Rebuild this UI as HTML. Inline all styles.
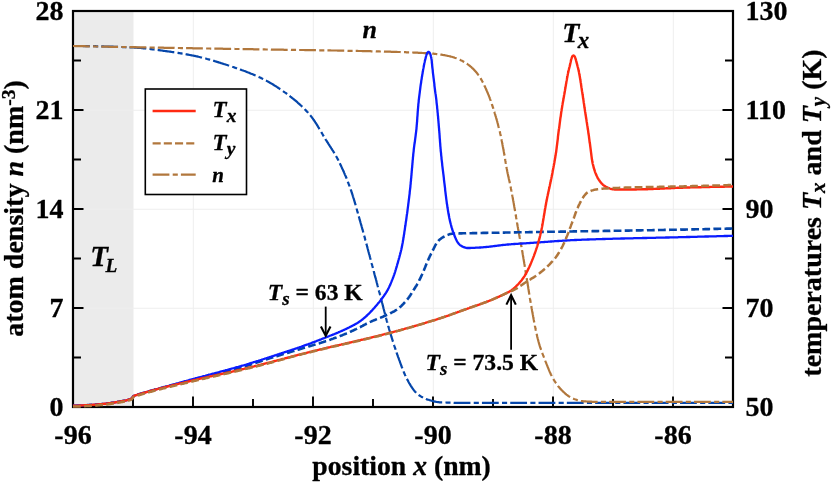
<!DOCTYPE html><html><head><meta charset="utf-8"><title>chart</title><style>html,body{margin:0;padding:0;background:#fff}#w{will-change:transform;position:relative;width:831px;height:484px;overflow:hidden;background:#fff}</style></head><body><div id="w">
<svg width="831" height="484" viewBox="0 0 831 484" style="position:absolute;left:0;top:0">
<rect x="0" y="0" width="831" height="484" fill="#fff"/>
<rect x="73" y="11" width="60.5" height="396" fill="#ebebeb"/>
<path d="M193.3,11 V407 M313.3,11 V407 M433.3,11 V407 M553.3,11 V407 M673.3,11 V407 M73,308.25 H733 M73,209.25 H733 M73,110.25 H733" stroke="#eeeeee" stroke-width="1" fill="none"/>
<rect x="73" y="11" width="660" height="396" fill="none" stroke="#000" stroke-width="2.2"/>
<path d="M133,407 v-8 M193,407 v-10.5 M253,407 v-8 M313,407 v-10.5 M373,407 v-8 M433,407 v-10.5 M493,407 v-8 M553,407 v-10.5 M613,407 v-8 M673,407 v-10.5 M73,357.5 h8 M733,357.5 h-8 M73,308.0 h10.5 M733,308.0 h-10.5 M73,258.5 h8 M733,258.5 h-8 M73,209.0 h10.5 M733,209.0 h-10.5 M73,159.5 h8 M733,159.5 h-8 M73,110.0 h10.5 M733,110.0 h-10.5 M73,60.5 h8 M733,60.5 h-8" stroke="#000" stroke-width="1.9" fill="none"/>
<clipPath id="c"><rect x="72" y="11" width="662" height="397"/></clipPath>
<g clip-path="url(#c)" fill="none" stroke-linejoin="round">
<path d="M73.0,46.0 L73.8,46.0 L74.6,46.0 L75.4,46.0 L76.2,46.0 L77.0,46.0 L77.8,46.0 L78.6,46.0 L79.4,46.0 L80.2,46.0 L81.0,46.0 L81.8,46.0 L82.6,46.0 L83.4,46.1 L84.2,46.1 L85.0,46.1 L85.8,46.1 L86.6,46.1 L87.4,46.1 L88.2,46.1 L89.0,46.1 L89.8,46.1 L90.6,46.2 L91.4,46.2 L92.2,46.2 L93.0,46.2 L93.8,46.2 L94.6,46.2 L95.4,46.2 L96.2,46.3 L97.0,46.3 L97.8,46.3 L98.6,46.3 L99.4,46.3 L100.2,46.4 L101.0,46.4 L101.8,46.4 L102.6,46.4 L103.4,46.4 L104.2,46.5 L105.0,46.5 L105.8,46.5 L106.6,46.5 L107.4,46.5 L108.2,46.6 L109.0,46.6 L109.8,46.6 L110.6,46.6 L111.4,46.7 L112.2,46.7 L113.0,46.7 L113.8,46.8 L114.6,46.8 L115.4,46.8 L116.2,46.8 L117.0,46.9 L117.8,46.9 L118.6,46.9 L119.4,46.9 L120.2,47.0 L121.0,47.0 L121.8,47.0 L122.6,47.1 L123.4,47.1 L124.2,47.1 L125.0,47.2 L125.8,47.2 L126.6,47.2 L127.4,47.3 L128.2,47.3 L129.0,47.3 L129.8,47.4 L130.6,47.4 L131.4,47.4 L132.2,47.5 L133.0,47.5 L133.8,47.5 L134.6,47.6 L135.3,47.6 L136.1,47.7 L136.9,47.7 L137.7,47.8 L138.5,47.8 L139.3,47.9 L140.1,48.0 L140.9,48.0 L141.7,48.1 L142.5,48.2 L143.3,48.3 L144.1,48.3 L144.9,48.4 L145.7,48.5 L146.5,48.6 L147.3,48.7 L148.1,48.8 L148.9,48.9 L149.7,49.0 L150.5,49.1 L151.3,49.2 L152.1,49.3 L152.9,49.4 L153.7,49.5 L154.4,49.6 L155.2,49.7 L156.0,49.8 L156.8,49.9 L157.6,50.0 L158.4,50.1 L159.2,50.2 L160.0,50.3 L160.8,50.4 L161.6,50.5 L162.4,50.6 L163.2,50.8 L164.0,50.9 L164.8,51.0 L165.6,51.1 L166.3,51.2 L167.1,51.3 L167.9,51.4 L168.7,51.5 L169.5,51.6 L170.3,51.7 L171.1,51.8 L171.9,52.0 L172.7,52.1 L173.5,52.2 L174.3,52.3 L175.1,52.4 L175.9,52.6 L176.6,52.7 L177.4,52.8 L178.2,52.9 L179.0,53.1 L179.8,53.2 L180.6,53.3 L181.4,53.4 L182.2,53.6 L183.0,53.7 L183.8,53.8 L184.5,54.0 L185.3,54.1 L186.1,54.3 L186.9,54.4 L187.7,54.6 L188.5,54.7 L189.3,54.9 L190.0,55.0 L190.8,55.2 L191.6,55.3 L192.4,55.5 L193.2,55.6 L194.0,55.8 L194.7,55.9 L195.5,56.1 L196.3,56.3 L197.1,56.4 L197.9,56.6 L198.6,56.8 L199.4,57.0 L200.2,57.2 L201.0,57.4 L201.7,57.5 L202.5,57.7 L203.3,57.9 L204.1,58.1 L204.8,58.3 L205.6,58.5 L206.4,58.7 L207.2,59.0 L207.9,59.2 L208.7,59.4 L209.5,59.6 L210.2,59.8 L211.0,60.0 L211.8,60.3 L212.5,60.5 L213.3,60.7 L214.1,60.9 L214.9,61.2 L215.6,61.4 L216.4,61.6 L217.2,61.9 L217.9,62.1 L218.7,62.4 L219.5,62.6 L220.2,62.8 L221.0,63.1 L221.7,63.3 L222.5,63.6 L223.3,63.8 L224.0,64.1 L224.8,64.3 L225.6,64.5 L226.3,64.8 L227.1,65.0 L227.8,65.3 L228.6,65.5 L229.4,65.8 L230.1,66.0 L230.9,66.3 L231.6,66.5 L232.4,66.8 L233.1,67.0 L233.9,67.3 L234.7,67.6 L235.4,67.8 L236.2,68.1 L236.9,68.3 L237.7,68.6 L238.5,68.9 L239.2,69.1 L240.0,69.4 L240.7,69.7 L241.5,69.9 L242.2,70.2 L243.0,70.5 L243.8,70.8 L244.5,71.0 L245.3,71.3 L246.0,71.6 L246.8,71.9 L247.5,72.2 L248.3,72.5 L249.0,72.8 L249.7,73.1 L250.5,73.4 L251.2,73.7 L252.0,74.0 L252.7,74.3 L253.4,74.6 L254.2,74.9 L254.9,75.2 L255.6,75.5 L256.4,75.8 L257.1,76.2 L257.8,76.5 L258.5,76.8 L259.3,77.2 L260.0,77.5 L260.7,77.8 L261.4,78.2 L262.1,78.5 L262.8,78.9 L263.5,79.2 L264.3,79.6 L265.0,80.0 L265.7,80.4 L266.4,80.7 L267.1,81.1 L267.8,81.5 L268.5,81.9 L269.2,82.3 L269.9,82.7 L270.6,83.1 L271.3,83.5 L272.0,83.9 L272.7,84.3 L273.4,84.7 L274.0,85.2 L274.7,85.6 L275.4,86.0 L276.1,86.4 L276.8,86.9 L277.5,87.3 L278.1,87.8 L278.8,88.2 L279.5,88.6 L280.1,89.1 L280.8,89.5 L281.4,90.0 L282.1,90.4 L282.8,90.9 L283.4,91.4 L284.0,91.8 L284.7,92.3 L285.3,92.7 L286.0,93.2 L286.6,93.7 L287.2,94.2 L287.9,94.6 L288.5,95.1 L289.2,95.6 L289.8,96.1 L290.4,96.6 L291.1,97.1 L291.7,97.6 L292.3,98.1 L293.0,98.6 L293.6,99.1 L294.2,99.6 L294.8,100.1 L295.5,100.7 L296.1,101.2 L296.7,101.7 L297.3,102.2 L297.9,102.8 L298.5,103.3 L299.1,103.8 L299.7,104.4 L300.3,104.9 L300.9,105.5 L301.5,106.0 L302.1,106.6 L302.7,107.2 L303.3,107.7 L303.8,108.3 L304.4,108.8 L304.9,109.4 L305.5,110.0 L306.1,110.6 L306.6,111.1 L307.1,111.7 L307.7,112.3 L308.2,112.9 L308.7,113.5 L309.2,114.1 L309.7,114.7 L310.2,115.3 L310.7,115.9 L311.2,116.5 L311.7,117.1 L312.2,117.7 L312.6,118.4 L313.1,119.0 L313.5,119.7 L314.0,120.3 L314.4,121.0 L314.9,121.6 L315.3,122.3 L315.8,123.0 L316.2,123.6 L316.6,124.3 L317.0,125.0 L317.5,125.7 L317.9,126.4 L318.3,127.1 L318.7,127.7 L319.1,128.4 L319.5,129.1 L320.0,129.8 L320.4,130.5 L320.8,131.2 L321.2,131.9 L321.6,132.6 L322.0,133.3 L322.4,134.0 L322.8,134.7 L323.2,135.4 L323.6,136.1 L324.0,136.8 L324.5,137.5 L324.9,138.2 L325.3,138.9 L325.7,139.6 L326.1,140.2 L326.6,140.9 L327.0,141.6 L327.4,142.3 L327.9,142.9 L328.3,143.6 L328.7,144.3 L329.2,145.0 L329.6,145.6 L330.0,146.3 L330.5,147.0 L330.9,147.6 L331.3,148.3 L331.8,149.0 L332.2,149.7 L332.6,150.4 L333.1,151.0 L333.5,151.7 L333.9,152.4 L334.3,153.1 L334.7,153.8 L335.1,154.5 L335.5,155.1 L335.9,155.8 L336.3,156.5 L336.7,157.2 L337.1,157.9 L337.4,158.6 L337.8,159.3 L338.2,160.0 L338.5,160.8 L338.9,161.5 L339.2,162.2 L339.6,162.9 L339.9,163.6 L340.3,164.3 L340.6,165.1 L341.0,165.8 L341.3,166.5 L341.7,167.2 L342.0,168.0 L342.3,168.7 L342.7,169.4 L343.0,170.1 L343.3,170.9 L343.7,171.6 L344.0,172.3 L344.3,173.1 L344.6,173.8 L344.9,174.6 L345.2,175.3 L345.6,176.0 L345.9,176.8 L346.2,177.5 L346.5,178.3 L346.8,179.0 L347.1,179.8 L347.4,180.5 L347.7,181.2 L347.9,182.0 L348.2,182.7 L348.5,183.5 L348.8,184.2 L349.1,185.0 L349.4,185.7 L349.6,186.5 L349.9,187.2 L350.2,188.0 L350.4,188.7 L350.7,189.5 L351.0,190.2 L351.2,191.0 L351.5,191.7 L351.7,192.5 L352.0,193.3 L352.2,194.0 L352.5,194.8 L352.7,195.5 L352.9,196.3 L353.2,197.1 L353.4,197.8 L353.7,198.6 L353.9,199.3 L354.1,200.1 L354.3,200.9 L354.6,201.6 L354.8,202.4 L355.0,203.2 L355.3,204.0 L355.5,204.7 L355.7,205.5 L355.9,206.3 L356.1,207.0 L356.4,207.8 L356.6,208.6 L356.8,209.3 L357.0,210.1 L357.2,210.9 L357.4,211.7 L357.7,212.4 L357.9,213.2 L358.1,214.0 L358.3,214.7 L358.5,215.5 L358.7,216.3 L359.0,217.1 L359.2,217.8 L359.4,218.6 L359.6,219.4 L359.8,220.1 L360.0,220.9 L360.3,221.7 L360.5,222.5 L360.7,223.2 L360.9,224.0 L361.1,224.8 L361.4,225.5 L361.6,226.3 L361.8,227.1 L362.0,227.8 L362.2,228.6 L362.4,229.4 L362.7,230.1 L362.9,230.9 L363.1,231.7 L363.3,232.5 L363.5,233.2 L363.7,234.0 L363.9,234.8 L364.1,235.5 L364.4,236.3 L364.6,237.1 L364.8,237.9 L365.0,238.6 L365.2,239.4 L365.4,240.2 L365.6,240.9 L365.8,241.7 L366.0,242.5 L366.2,243.3 L366.4,244.0 L366.7,244.8 L366.9,245.6 L367.1,246.4 L367.3,247.1 L367.5,247.9 L367.7,248.7 L367.9,249.4 L368.1,250.2 L368.3,251.0 L368.5,251.8 L368.7,252.5 L368.9,253.3 L369.1,254.1 L369.4,254.8 L369.6,255.6 L369.8,256.4 L370.0,257.2 L370.2,257.9 L370.4,258.7 L370.6,259.5 L370.8,260.3 L371.0,261.0 L371.2,261.8 L371.4,262.6 L371.6,263.3 L371.8,264.1 L372.1,264.9 L372.3,265.7 L372.5,266.4 L372.7,267.2 L372.9,268.0 L373.1,268.7 L373.3,269.5 L373.5,270.3 L373.7,271.1 L373.9,271.8 L374.1,272.6 L374.3,273.4 L374.5,274.2 L374.7,274.9 L374.9,275.7 L375.1,276.5 L375.3,277.3 L375.6,278.0 L375.8,278.8 L376.0,279.6 L376.2,280.3 L376.4,281.1 L376.6,281.9 L376.8,282.7 L377.0,283.4 L377.2,284.2 L377.4,285.0 L377.6,285.8 L377.8,286.5 L378.0,287.3 L378.2,288.1 L378.4,288.8 L378.6,289.6 L378.8,290.4 L379.0,291.2 L379.2,291.9 L379.5,292.7 L379.7,293.5 L379.9,294.3 L380.1,295.0 L380.3,295.8 L380.5,296.6 L380.7,297.3 L380.9,298.1 L381.1,298.9 L381.3,299.7 L381.5,300.4 L381.7,301.2 L381.9,302.0 L382.1,302.8 L382.3,303.5 L382.5,304.3 L382.7,305.1 L382.9,305.9 L383.1,306.6 L383.3,307.4 L383.5,308.2 L383.7,309.0 L383.9,309.7 L384.1,310.5 L384.3,311.3 L384.5,312.1 L384.7,312.8 L384.9,313.6 L385.1,314.4 L385.3,315.2 L385.5,315.9 L385.7,316.7 L385.9,317.5 L386.1,318.3 L386.3,319.0 L386.5,319.8 L386.7,320.6 L386.9,321.3 L387.2,322.1 L387.4,322.9 L387.6,323.7 L387.8,324.4 L388.0,325.2 L388.2,326.0 L388.4,326.7 L388.7,327.5 L388.9,328.3 L389.1,329.0 L389.3,329.8 L389.6,330.6 L389.8,331.3 L390.0,332.1 L390.3,332.9 L390.5,333.6 L390.7,334.4 L390.9,335.2 L391.2,335.9 L391.4,336.7 L391.7,337.5 L391.9,338.2 L392.1,339.0 L392.4,339.7 L392.6,340.5 L392.8,341.3 L393.1,342.0 L393.3,342.8 L393.6,343.6 L393.8,344.3 L394.1,345.1 L394.3,345.8 L394.6,346.6 L394.8,347.4 L395.1,348.1 L395.3,348.9 L395.6,349.6 L395.8,350.4 L396.1,351.2 L396.4,351.9 L396.6,352.7 L396.9,353.4 L397.1,354.2 L397.4,354.9 L397.7,355.7 L397.9,356.4 L398.2,357.2 L398.5,357.9 L398.8,358.7 L399.0,359.4 L399.3,360.2 L399.6,360.9 L399.9,361.7 L400.1,362.4 L400.4,363.2 L400.7,364.0 L401.0,364.7 L401.2,365.5 L401.5,366.2 L401.8,367.0 L402.1,367.7 L402.4,368.5 L402.7,369.2 L403.0,370.0 L403.3,370.7 L403.6,371.5 L403.9,372.2 L404.2,373.0 L404.5,373.7 L404.8,374.4 L405.1,375.2 L405.5,375.9 L405.8,376.6 L406.1,377.3 L406.5,378.0 L406.8,378.7 L407.2,379.4 L407.6,380.1 L408.0,380.8 L408.3,381.5 L408.7,382.2 L409.1,383.0 L409.5,383.7 L410.0,384.4 L410.4,385.1 L410.8,385.8 L411.3,386.5 L411.7,387.2 L412.2,387.9 L412.7,388.6 L413.1,389.2 L413.6,389.9 L414.1,390.5 L414.6,391.1 L415.1,391.7 L415.7,392.3 L416.2,392.8 L416.8,393.3 L417.3,393.8 L417.9,394.3 L418.5,394.8 L419.1,395.3 L419.8,395.7 L420.5,396.1 L421.2,396.6 L421.9,397.0 L422.6,397.4 L423.3,397.8 L424.1,398.1 L424.8,398.5 L425.6,398.8 L426.3,399.1 L427.1,399.4 L427.8,399.6 L428.6,399.8 L429.3,400.1 L430.1,400.3 L430.8,400.5 L431.6,400.8 L432.4,401.0 L433.2,401.2 L434.0,401.4 L434.8,401.6 L435.6,401.7 L436.3,401.9 L437.1,402.0 L437.9,402.1 L438.7,402.2 L439.5,402.3 L440.3,402.3 L441.1,402.4 L441.9,402.4 L442.7,402.4 L443.5,402.5 L444.3,402.5 L445.1,402.5 L445.9,402.5 L446.7,402.6 L447.5,402.6 L448.3,402.6 L449.1,402.6 L449.9,402.7 L450.7,402.7 L451.5,402.7 L452.3,402.7 L453.1,402.7 L453.9,402.8 L454.7,402.8 L455.5,402.8 L456.3,402.8 L457.1,402.8 L457.9,402.8 L458.7,402.8 L459.5,402.8 L460.3,402.8 L461.1,402.8 L461.9,402.8 L462.7,402.8 L463.5,402.8 L464.3,402.8 L465.1,402.8 L465.9,402.8 L466.7,402.8 L467.5,402.8 L468.3,402.8 L469.1,402.8 L469.9,402.8 L470.7,402.8 L471.5,402.8 L472.3,402.8 L473.1,402.8 L473.9,402.8 L474.7,402.8 L475.5,402.8 L476.3,402.8 L477.1,402.8 L477.9,402.8 L478.7,402.8 L479.5,402.8 L480.3,402.8 L481.1,402.8 L481.9,402.8 L482.7,402.8 L483.5,402.8 L484.3,402.8 L485.1,402.8 L485.9,402.8 L486.7,402.8 L487.5,402.8 L488.3,402.8 L489.1,402.8 L489.9,402.8 L490.7,402.8 L491.5,402.8 L492.3,402.8 L493.1,402.8 L493.9,402.8 L494.7,402.8 L495.5,402.8 L496.3,402.8 L497.1,402.8 L497.9,402.8 L498.7,402.8 L499.5,402.8 L500.3,402.8 L501.1,402.8 L501.9,402.8 L502.7,402.8 L503.5,402.8 L504.3,402.8 L505.1,402.8 L505.9,402.8 L506.7,402.8 L507.5,402.8 L508.3,402.8 L509.1,402.8 L509.9,402.8 L510.7,402.8 L511.5,402.8 L512.3,402.8 L513.1,402.8 L513.9,402.8 L514.7,402.8 L515.5,402.8 L516.3,402.8 L517.1,402.8 L517.9,402.8 L518.7,402.8 L519.5,402.8 L520.3,402.8 L521.1,402.8 L521.9,402.8 L522.7,402.8 L523.5,402.8 L524.3,402.8 L525.1,402.8 L525.9,402.8 L526.7,402.8 L527.5,402.8 L528.3,402.8 L529.1,402.8 L529.9,402.8 L530.7,402.8 L531.5,402.8 L532.3,402.8 L533.1,402.8 L533.9,402.8 L534.7,402.8 L535.5,402.8 L536.3,402.8 L537.1,402.8 L537.9,402.8 L538.7,402.8 L539.5,402.8 L540.3,402.8 L541.1,402.8 L541.9,402.8 L542.7,402.8 L543.5,402.8 L544.3,402.8 L545.1,402.8 L545.9,402.8 L546.7,402.8 L547.5,402.8 L548.3,402.8 L549.1,402.8 L549.9,402.8 L550.7,402.8 L551.5,402.8 L552.3,402.8 L553.1,402.8 L553.9,402.8 L554.7,402.8 L555.5,402.8 L556.3,402.8 L557.1,402.8 L557.9,402.8 L558.7,402.8 L559.5,402.8 L560.2,402.8 L561.0,402.8 L561.8,402.8 L562.6,402.8 L563.4,402.8 L564.2,402.8 L565.0,402.8 L565.8,402.8 L566.6,402.8 L567.4,402.8 L568.2,402.8 L569.0,402.8 L569.8,402.8 L570.6,402.8 L571.4,402.8 L572.2,402.8 L573.0,402.8 L573.8,402.8 L574.6,402.8 L575.4,402.8 L576.2,402.8 L577.0,402.8 L577.8,402.8 L578.6,402.8 L579.4,402.8 L580.2,402.8 L581.0,402.8 L581.8,402.8 L582.6,402.8 L583.4,402.8 L584.2,402.8 L585.0,402.8 L585.8,402.8 L586.6,402.8 L587.4,402.8 L588.2,402.8 L589.0,402.8 L589.8,402.8 L590.6,402.8 L591.4,402.8 L592.2,402.8 L593.0,402.8 L593.8,402.8 L594.6,402.8 L595.4,402.8 L596.2,402.8 L597.0,402.8 L597.8,402.8 L598.6,402.8 L599.4,402.8 L600.2,402.8 L601.0,402.8 L601.8,402.8 L602.6,402.8 L603.4,402.8 L604.2,402.8 L605.0,402.8 L605.8,402.8 L606.6,402.8 L607.4,402.8 L608.2,402.8 L609.0,402.8 L609.8,402.8 L610.6,402.8 L611.4,402.8 L612.2,402.8 L613.0,402.8 L613.8,402.8 L614.6,402.8 L615.4,402.8 L616.2,402.8 L617.0,402.8 L617.8,402.8 L618.6,402.8 L619.4,402.8 L620.2,402.8 L621.0,402.8 L621.8,402.8 L622.6,402.8 L623.4,402.8 L624.2,402.8 L625.0,402.8 L625.8,402.8 L626.6,402.8 L627.4,402.8 L628.2,402.8 L629.0,402.8 L629.8,402.8 L630.6,402.8 L631.4,402.8 L632.2,402.8 L633.0,402.8 L633.8,402.8 L634.6,402.8 L635.4,402.8 L636.2,402.8 L637.0,402.8 L637.8,402.8 L638.6,402.8 L639.4,402.8 L640.2,402.8 L641.0,402.8 L641.8,402.8 L642.6,402.8 L643.4,402.8 L644.2,402.8 L645.0,402.8 L645.8,402.8 L646.6,402.8 L647.4,402.8 L648.2,402.8 L649.0,402.8 L649.8,402.8 L650.6,402.8 L651.4,402.8 L652.2,402.8 L653.0,402.8 L653.8,402.8 L654.6,402.8 L655.4,402.8 L656.2,402.8 L657.0,402.8 L657.8,402.8 L658.6,402.8 L659.4,402.8 L660.2,402.8 L661.0,402.8 L661.8,402.8 L662.6,402.8 L663.4,402.8 L664.2,402.8 L665.0,402.8 L665.8,402.8 L666.6,402.8 L667.4,402.8 L668.2,402.8 L669.0,402.8 L669.8,402.8 L670.6,402.8 L671.4,402.8 L672.2,402.8 L673.0,402.8 L673.8,402.8 L674.6,402.8 L675.4,402.8 L676.2,402.8 L677.0,402.8 L677.8,402.8 L678.6,402.8 L679.4,402.8 L680.2,402.8 L681.0,402.8 L681.8,402.8 L682.6,402.8 L683.4,402.8 L684.2,402.8 L685.0,402.8 L685.8,402.8 L686.6,402.8 L687.4,402.8 L688.2,402.8 L689.0,402.8 L689.8,402.8 L690.6,402.8 L691.4,402.8 L692.2,402.8 L693.0,402.8 L693.8,402.8 L694.6,402.8 L695.4,402.8 L696.2,402.8 L697.0,402.8 L697.8,402.8 L698.6,402.8 L699.4,402.8 L700.2,402.8 L701.0,402.8 L701.8,402.8 L702.6,402.8 L703.4,402.8 L704.2,402.8 L705.0,402.8 L705.8,402.8 L706.6,402.8 L707.4,402.8 L708.2,402.8 L709.0,402.8 L709.8,402.8 L710.6,402.8 L711.4,402.8 L712.2,402.8 L713.0,402.8 L713.8,402.8 L714.6,402.8 L715.4,402.8 L716.2,402.8 L717.0,402.8 L717.8,402.8 L718.6,402.8 L719.4,402.8 L720.2,402.8 L721.0,402.8 L721.8,402.8 L722.6,402.8 L723.4,402.8 L724.2,402.8 L725.0,402.8 L725.8,402.8 L726.6,402.8 L727.4,402.8 L728.2,402.8 L729.0,402.8 L729.8,402.8 L730.6,402.8 L731.4,402.8 L732.2,402.8 L733.0,402.8" stroke="#0546aa" stroke-width="2.2" stroke-dasharray="16.8 3.3 5.1 3.1"/>
<path d="M73.0,46.0 L73.8,46.0 L74.6,46.0 L75.4,46.1 L76.2,46.1 L77.0,46.1 L77.8,46.1 L78.6,46.1 L79.4,46.1 L80.2,46.2 L81.0,46.2 L81.8,46.2 L82.6,46.2 L83.4,46.2 L84.2,46.2 L85.0,46.2 L85.8,46.3 L86.6,46.3 L87.4,46.3 L88.2,46.3 L89.0,46.3 L89.8,46.3 L90.6,46.4 L91.4,46.4 L92.2,46.4 L93.0,46.4 L93.8,46.4 L94.6,46.4 L95.4,46.5 L96.2,46.5 L97.0,46.5 L97.8,46.5 L98.6,46.5 L99.4,46.5 L100.2,46.6 L101.0,46.6 L101.8,46.6 L102.6,46.6 L103.4,46.6 L104.2,46.6 L105.0,46.7 L105.8,46.7 L106.6,46.7 L107.4,46.7 L108.2,46.7 L109.0,46.7 L109.8,46.8 L110.6,46.8 L111.4,46.8 L112.2,46.8 L113.0,46.8 L113.8,46.8 L114.6,46.8 L115.4,46.9 L116.2,46.9 L117.0,46.9 L117.8,46.9 L118.6,46.9 L119.4,46.9 L120.2,47.0 L121.0,47.0 L121.8,47.0 L122.6,47.0 L123.4,47.0 L124.2,47.0 L125.0,47.0 L125.8,47.1 L126.6,47.1 L127.4,47.1 L128.2,47.1 L129.0,47.1 L129.8,47.1 L130.6,47.2 L131.4,47.2 L132.2,47.2 L133.0,47.2 L133.8,47.2 L134.6,47.2 L135.4,47.2 L136.2,47.3 L137.0,47.3 L137.8,47.3 L138.6,47.3 L139.4,47.3 L140.2,47.3 L141.0,47.3 L141.8,47.4 L142.6,47.4 L143.4,47.4 L144.2,47.4 L145.0,47.4 L145.8,47.4 L146.6,47.4 L147.4,47.5 L148.2,47.5 L149.0,47.5 L149.8,47.5 L150.6,47.5 L151.4,47.5 L152.2,47.5 L153.0,47.6 L153.8,47.6 L154.6,47.6 L155.4,47.6 L156.2,47.6 L157.0,47.6 L157.8,47.6 L158.6,47.7 L159.4,47.7 L160.2,47.7 L161.0,47.7 L161.7,47.7 L162.5,47.7 L163.3,47.7 L164.1,47.8 L164.9,47.8 L165.7,47.8 L166.5,47.8 L167.3,47.8 L168.1,47.8 L168.9,47.8 L169.7,47.9 L170.5,47.9 L171.3,47.9 L172.1,47.9 L172.9,47.9 L173.7,47.9 L174.5,47.9 L175.3,48.0 L176.1,48.0 L176.9,48.0 L177.7,48.0 L178.5,48.0 L179.3,48.0 L180.1,48.0 L180.9,48.1 L181.7,48.1 L182.5,48.1 L183.3,48.1 L184.1,48.1 L184.9,48.1 L185.7,48.1 L186.5,48.1 L187.3,48.2 L188.1,48.2 L188.9,48.2 L189.7,48.2 L190.5,48.2 L191.3,48.2 L192.1,48.2 L192.9,48.3 L193.7,48.3 L194.5,48.3 L195.3,48.3 L196.1,48.3 L196.9,48.3 L197.7,48.3 L198.5,48.3 L199.3,48.4 L200.1,48.4 L200.9,48.4 L201.7,48.4 L202.5,48.4 L203.3,48.4 L204.1,48.4 L204.9,48.5 L205.7,48.5 L206.5,48.5 L207.3,48.5 L208.1,48.5 L208.9,48.5 L209.7,48.5 L210.5,48.6 L211.3,48.6 L212.1,48.6 L212.9,48.6 L213.7,48.6 L214.5,48.6 L215.3,48.6 L216.1,48.6 L216.9,48.7 L217.7,48.7 L218.5,48.7 L219.3,48.7 L220.1,48.7 L220.9,48.7 L221.7,48.7 L222.5,48.7 L223.3,48.8 L224.1,48.8 L224.9,48.8 L225.7,48.8 L226.5,48.8 L227.3,48.8 L228.1,48.8 L228.9,48.9 L229.7,48.9 L230.5,48.9 L231.3,48.9 L232.1,48.9 L232.9,48.9 L233.7,48.9 L234.5,48.9 L235.3,49.0 L236.1,49.0 L236.9,49.0 L237.7,49.0 L238.5,49.0 L239.3,49.0 L240.1,49.0 L240.9,49.1 L241.7,49.1 L242.5,49.1 L243.3,49.1 L244.1,49.1 L244.9,49.1 L245.7,49.1 L246.5,49.1 L247.3,49.2 L248.1,49.2 L248.9,49.2 L249.7,49.2 L250.5,49.2 L251.3,49.2 L252.1,49.2 L252.9,49.2 L253.7,49.3 L254.5,49.3 L255.3,49.3 L256.1,49.3 L256.9,49.3 L257.7,49.3 L258.5,49.3 L259.3,49.4 L260.1,49.4 L260.9,49.4 L261.7,49.4 L262.5,49.4 L263.3,49.4 L264.1,49.4 L264.9,49.4 L265.7,49.5 L266.5,49.5 L267.3,49.5 L268.1,49.5 L268.9,49.5 L269.7,49.5 L270.5,49.5 L271.3,49.6 L272.1,49.6 L272.9,49.6 L273.7,49.6 L274.5,49.6 L275.3,49.6 L276.1,49.6 L276.9,49.6 L277.7,49.7 L278.5,49.7 L279.3,49.7 L280.1,49.7 L280.9,49.7 L281.7,49.7 L282.5,49.7 L283.3,49.7 L284.1,49.8 L284.9,49.8 L285.7,49.8 L286.5,49.8 L287.3,49.8 L288.1,49.8 L288.9,49.8 L289.7,49.8 L290.5,49.8 L291.3,49.9 L292.1,49.9 L292.9,49.9 L293.7,49.9 L294.5,49.9 L295.3,49.9 L296.1,49.9 L296.9,49.9 L297.7,49.9 L298.5,50.0 L299.3,50.0 L300.1,50.0 L300.9,50.0 L301.7,50.0 L302.5,50.0 L303.3,50.0 L304.1,50.0 L304.9,50.1 L305.7,50.1 L306.5,50.1 L307.3,50.1 L308.1,50.1 L308.9,50.1 L309.7,50.1 L310.5,50.1 L311.3,50.1 L312.1,50.2 L312.9,50.2 L313.7,50.2 L314.5,50.2 L315.3,50.2 L316.1,50.2 L316.9,50.2 L317.7,50.2 L318.5,50.3 L319.3,50.3 L320.1,50.3 L320.9,50.3 L321.7,50.3 L322.5,50.3 L323.3,50.3 L324.1,50.3 L324.9,50.3 L325.7,50.4 L326.5,50.4 L327.3,50.4 L328.1,50.4 L328.9,50.4 L329.7,50.4 L330.5,50.4 L331.3,50.5 L332.1,50.5 L332.9,50.5 L333.7,50.5 L334.5,50.5 L335.3,50.5 L336.1,50.5 L336.9,50.5 L337.7,50.6 L338.5,50.6 L339.3,50.6 L340.1,50.6 L340.9,50.6 L341.7,50.6 L342.5,50.6 L343.3,50.7 L344.1,50.7 L344.9,50.7 L345.7,50.7 L346.5,50.7 L347.3,50.7 L348.1,50.8 L348.9,50.8 L349.7,50.8 L350.5,50.8 L351.3,50.8 L352.1,50.8 L352.9,50.8 L353.7,50.9 L354.5,50.9 L355.3,50.9 L356.1,50.9 L356.8,50.9 L357.6,50.9 L358.4,51.0 L359.2,51.0 L360.0,51.0 L360.8,51.0 L361.6,51.0 L362.4,51.1 L363.2,51.1 L364.0,51.1 L364.8,51.1 L365.6,51.1 L366.4,51.1 L367.2,51.2 L368.0,51.2 L368.8,51.2 L369.6,51.2 L370.4,51.2 L371.2,51.3 L372.0,51.3 L372.8,51.3 L373.6,51.3 L374.4,51.3 L375.2,51.3 L376.0,51.4 L376.8,51.4 L377.6,51.4 L378.4,51.4 L379.2,51.4 L380.0,51.5 L380.8,51.5 L381.6,51.5 L382.4,51.5 L383.2,51.5 L384.0,51.6 L384.8,51.6 L385.6,51.6 L386.4,51.6 L387.2,51.6 L388.0,51.7 L388.8,51.7 L389.6,51.7 L390.4,51.7 L391.2,51.8 L392.0,51.8 L392.8,51.8 L393.6,51.8 L394.4,51.9 L395.2,51.9 L396.0,51.9 L396.8,51.9 L397.6,52.0 L398.4,52.0 L399.2,52.0 L400.0,52.0 L400.8,52.1 L401.6,52.1 L402.4,52.1 L403.2,52.1 L404.0,52.2 L404.8,52.2 L405.6,52.2 L406.4,52.3 L407.2,52.3 L408.0,52.3 L408.8,52.4 L409.6,52.4 L410.4,52.4 L411.2,52.5 L412.0,52.5 L412.8,52.5 L413.6,52.6 L414.4,52.6 L415.2,52.6 L416.0,52.7 L416.8,52.7 L417.6,52.7 L418.4,52.8 L419.2,52.8 L420.0,52.9 L420.8,52.9 L421.6,52.9 L422.4,53.0 L423.2,53.0 L424.0,53.1 L424.8,53.1 L425.6,53.1 L426.4,53.2 L427.2,53.2 L428.0,53.3 L428.8,53.3 L429.6,53.4 L430.4,53.4 L431.2,53.5 L432.0,53.6 L432.8,53.7 L433.6,53.7 L434.4,53.8 L435.2,53.9 L436.0,54.0 L436.7,54.1 L437.5,54.2 L438.3,54.3 L439.1,54.4 L439.9,54.5 L440.7,54.6 L441.5,54.7 L442.3,54.8 L443.1,55.0 L443.9,55.1 L444.7,55.2 L445.5,55.4 L446.3,55.5 L447.0,55.7 L447.8,55.9 L448.6,56.0 L449.4,56.2 L450.2,56.4 L450.9,56.6 L451.7,56.8 L452.5,57.0 L453.2,57.2 L454.0,57.4 L454.7,57.7 L455.5,58.0 L456.3,58.2 L457.0,58.5 L457.8,58.8 L458.5,59.2 L459.3,59.5 L460.0,59.8 L460.7,60.2 L461.5,60.5 L462.2,60.9 L462.9,61.3 L463.6,61.7 L464.3,62.1 L464.9,62.5 L465.6,62.9 L466.2,63.3 L466.9,63.7 L467.5,64.2 L468.2,64.7 L468.8,65.1 L469.5,65.6 L470.1,66.2 L470.7,66.7 L471.4,67.2 L472.0,67.8 L472.6,68.3 L473.2,68.9 L473.8,69.5 L474.3,70.1 L474.9,70.7 L475.4,71.3 L475.9,71.9 L476.5,72.5 L477.0,73.1 L477.4,73.7 L477.9,74.3 L478.3,74.9 L478.8,75.5 L479.2,76.2 L479.7,76.8 L480.1,77.5 L480.5,78.2 L480.9,78.9 L481.3,79.6 L481.7,80.3 L482.1,81.0 L482.5,81.7 L482.8,82.4 L483.2,83.1 L483.6,83.9 L483.9,84.6 L484.3,85.3 L484.6,86.1 L485.0,86.8 L485.3,87.5 L485.7,88.3 L486.0,89.0 L486.3,89.8 L486.6,90.5 L487.0,91.2 L487.3,92.0 L487.6,92.7 L487.9,93.4 L488.2,94.2 L488.5,94.9 L488.8,95.6 L489.1,96.4 L489.4,97.1 L489.7,97.9 L489.9,98.6 L490.2,99.4 L490.5,100.1 L490.7,100.9 L491.0,101.7 L491.3,102.4 L491.5,103.2 L491.8,103.9 L492.0,104.7 L492.3,105.5 L492.5,106.2 L492.8,107.0 L493.0,107.7 L493.3,108.5 L493.5,109.3 L493.8,110.0 L494.0,110.8 L494.2,111.6 L494.5,112.3 L494.7,113.1 L494.9,113.8 L495.2,114.6 L495.4,115.4 L495.6,116.1 L495.9,116.9 L496.1,117.7 L496.3,118.4 L496.5,119.2 L496.8,120.0 L497.0,120.8 L497.2,121.5 L497.4,122.3 L497.6,123.1 L497.8,123.8 L498.0,124.6 L498.2,125.4 L498.4,126.2 L498.6,126.9 L498.8,127.7 L499.0,128.5 L499.2,129.3 L499.4,130.0 L499.6,130.8 L499.8,131.6 L500.0,132.4 L500.1,133.2 L500.3,133.9 L500.5,134.7 L500.7,135.5 L500.8,136.3 L501.0,137.1 L501.2,137.8 L501.3,138.6 L501.5,139.4 L501.6,140.2 L501.8,141.0 L501.9,141.8 L502.1,142.5 L502.2,143.3 L502.4,144.1 L502.5,144.9 L502.7,145.7 L502.8,146.5 L503.0,147.3 L503.1,148.1 L503.3,148.8 L503.4,149.6 L503.6,150.4 L503.7,151.2 L503.9,152.0 L504.0,152.8 L504.1,153.6 L504.3,154.3 L504.4,155.1 L504.6,155.9 L504.7,156.7 L504.8,157.5 L505.0,158.3 L505.1,159.1 L505.2,159.9 L505.3,160.7 L505.5,161.4 L505.6,162.2 L505.7,163.0 L505.9,163.8 L506.0,164.6 L506.2,165.4 L506.3,166.2 L506.4,167.0 L506.6,167.7 L506.7,168.5 L506.9,169.3 L507.0,170.1 L507.2,170.9 L507.3,171.7 L507.5,172.5 L507.6,173.2 L507.8,174.0 L508.0,174.8 L508.1,175.6 L508.3,176.4 L508.5,177.1 L508.7,177.9 L508.8,178.7 L509.0,179.5 L509.2,180.3 L509.4,181.1 L509.5,181.8 L509.7,182.6 L509.9,183.4 L510.0,184.2 L510.2,185.0 L510.4,185.7 L510.5,186.5 L510.7,187.3 L510.9,188.1 L511.0,188.9 L511.2,189.7 L511.3,190.4 L511.5,191.2 L511.6,192.0 L511.8,192.8 L511.9,193.6 L512.1,194.4 L512.2,195.2 L512.4,195.9 L512.5,196.7 L512.7,197.5 L512.8,198.3 L512.9,199.1 L513.1,199.9 L513.2,200.7 L513.4,201.4 L513.5,202.2 L513.7,203.0 L513.8,203.8 L513.9,204.6 L514.1,205.4 L514.2,206.2 L514.3,207.0 L514.5,207.8 L514.6,208.5 L514.7,209.3 L514.9,210.1 L515.0,210.9 L515.1,211.7 L515.3,212.5 L515.4,213.3 L515.5,214.1 L515.7,214.8 L515.8,215.6 L516.0,216.4 L516.1,217.2 L516.2,218.0 L516.4,218.8 L516.5,219.6 L516.6,220.4 L516.8,221.2 L516.9,221.9 L517.0,222.7 L517.2,223.5 L517.3,224.3 L517.4,225.1 L517.6,225.9 L517.7,226.7 L517.9,227.5 L518.0,228.2 L518.1,229.0 L518.3,229.8 L518.4,230.6 L518.6,231.4 L518.7,232.2 L518.8,233.0 L519.0,233.8 L519.1,234.5 L519.3,235.3 L519.4,236.1 L519.6,236.9 L519.7,237.7 L519.9,238.5 L520.0,239.3 L520.2,240.0 L520.3,240.8 L520.5,241.6 L520.6,242.4 L520.8,243.2 L520.9,244.0 L521.0,244.8 L521.2,245.5 L521.3,246.3 L521.5,247.1 L521.6,247.9 L521.8,248.7 L521.9,249.5 L522.0,250.3 L522.2,251.1 L522.3,251.8 L522.5,252.6 L522.6,253.4 L522.7,254.2 L522.9,255.0 L523.0,255.8 L523.1,256.6 L523.3,257.4 L523.4,258.1 L523.5,258.9 L523.7,259.7 L523.8,260.5 L523.9,261.3 L524.1,262.1 L524.2,262.9 L524.3,263.7 L524.5,264.5 L524.6,265.2 L524.7,266.0 L524.8,266.8 L525.0,267.6 L525.1,268.4 L525.2,269.2 L525.4,270.0 L525.5,270.8 L525.6,271.6 L525.7,272.4 L525.9,273.1 L526.0,273.9 L526.1,274.7 L526.3,275.5 L526.4,276.3 L526.5,277.1 L526.7,277.9 L526.8,278.7 L526.9,279.5 L527.0,280.2 L527.2,281.0 L527.3,281.8 L527.4,282.6 L527.6,283.4 L527.7,284.2 L527.8,285.0 L527.9,285.8 L528.1,286.6 L528.2,287.4 L528.3,288.1 L528.4,288.9 L528.6,289.7 L528.7,290.5 L528.8,291.3 L528.9,292.1 L529.1,292.9 L529.2,293.7 L529.3,294.5 L529.4,295.3 L529.6,296.0 L529.7,296.8 L529.8,297.6 L529.9,298.4 L530.1,299.2 L530.2,300.0 L530.3,300.8 L530.5,301.6 L530.6,302.4 L530.7,303.1 L530.9,303.9 L531.0,304.7 L531.1,305.5 L531.3,306.3 L531.4,307.1 L531.6,307.9 L531.7,308.7 L531.9,309.4 L532.0,310.2 L532.1,311.0 L532.3,311.8 L532.4,312.6 L532.6,313.4 L532.7,314.2 L532.9,315.0 L533.0,315.7 L533.1,316.5 L533.3,317.3 L533.4,318.1 L533.6,318.9 L533.7,319.7 L533.9,320.5 L534.0,321.3 L534.2,322.1 L534.3,322.8 L534.5,323.6 L534.6,324.4 L534.8,325.2 L534.9,326.0 L535.1,326.8 L535.3,327.6 L535.4,328.3 L535.6,329.1 L535.7,329.9 L535.9,330.7 L536.1,331.5 L536.3,332.3 L536.4,333.0 L536.6,333.8 L536.8,334.6 L537.0,335.4 L537.1,336.2 L537.3,336.9 L537.5,337.7 L537.7,338.5 L537.9,339.2 L538.1,340.0 L538.3,340.8 L538.5,341.6 L538.7,342.3 L538.9,343.1 L539.1,343.9 L539.4,344.6 L539.6,345.4 L539.8,346.1 L540.1,346.9 L540.3,347.7 L540.6,348.4 L540.9,349.2 L541.1,349.9 L541.4,350.7 L541.7,351.4 L542.0,352.2 L542.2,352.9 L542.5,353.7 L542.8,354.4 L543.1,355.2 L543.4,355.9 L543.7,356.7 L544.0,357.4 L544.3,358.2 L544.6,358.9 L544.9,359.7 L545.2,360.4 L545.4,361.1 L545.7,361.9 L546.0,362.6 L546.3,363.4 L546.6,364.1 L546.9,364.9 L547.2,365.6 L547.5,366.4 L547.8,367.2 L548.1,367.9 L548.4,368.6 L548.7,369.4 L549.0,370.1 L549.3,370.9 L549.6,371.6 L549.9,372.3 L550.3,373.1 L550.6,373.8 L550.9,374.5 L551.3,375.2 L551.7,375.9 L552.0,376.6 L552.4,377.3 L552.8,378.0 L553.2,378.7 L553.6,379.4 L554.0,380.1 L554.4,380.7 L554.8,381.4 L555.3,382.1 L555.7,382.8 L556.2,383.4 L556.7,384.1 L557.2,384.8 L557.6,385.4 L558.1,386.1 L558.6,386.7 L559.1,387.3 L559.7,388.0 L560.2,388.6 L560.7,389.1 L561.3,389.7 L561.8,390.3 L562.3,390.8 L562.9,391.4 L563.5,391.9 L564.1,392.5 L564.7,393.0 L565.3,393.6 L565.9,394.1 L566.5,394.6 L567.2,395.1 L567.9,395.6 L568.5,396.1 L569.2,396.5 L569.9,396.9 L570.6,397.3 L571.3,397.7 L572.0,398.1 L572.7,398.4 L573.4,398.7 L574.1,399.0 L574.9,399.3 L575.6,399.5 L576.4,399.8 L577.2,400.1 L577.9,400.3 L578.7,400.5 L579.5,400.7 L580.3,400.9 L581.1,401.0 L581.9,401.1 L582.7,401.2 L583.5,401.3 L584.2,401.3 L585.0,401.4 L585.8,401.4 L586.6,401.5 L587.4,401.5 L588.2,401.6 L589.0,401.6 L589.8,401.7 L590.6,401.7 L591.4,401.7 L592.2,401.8 L593.0,401.8 L593.8,401.8 L594.6,401.8 L595.4,401.8 L596.2,401.9 L597.0,401.9 L597.8,401.9 L598.6,401.9 L599.5,401.9 L600.3,401.9 L601.0,401.9 L601.8,401.9 L602.6,401.9 L603.4,401.9 L604.2,401.9 L605.0,401.9 L605.8,401.9 L606.6,401.9 L607.4,401.9 L608.2,401.9 L609.0,401.9 L609.8,401.9 L610.6,401.9 L611.4,401.9 L612.2,401.9 L613.0,401.9 L613.8,401.9 L614.6,401.9 L615.4,401.9 L616.2,401.9 L617.0,401.9 L617.8,401.9 L618.6,401.9 L619.4,401.9 L620.2,401.9 L621.0,401.9 L621.8,401.9 L622.6,401.9 L623.4,401.9 L624.2,401.9 L625.0,401.9 L625.8,401.9 L626.6,401.9 L627.4,401.9 L628.2,401.9 L629.0,401.9 L629.8,401.9 L630.6,401.9 L631.4,401.9 L632.2,401.9 L633.0,401.9 L633.8,401.9 L634.6,401.9 L635.4,401.9 L636.2,401.9 L637.0,401.9 L637.8,401.9 L638.6,401.9 L639.4,401.9 L640.2,401.9 L641.0,401.9 L641.8,401.9 L642.6,401.9 L643.4,401.9 L644.2,401.9 L645.0,401.9 L645.8,401.9 L646.6,401.9 L647.4,401.9 L648.2,401.9 L649.0,401.9 L649.8,401.9 L650.6,401.9 L651.4,401.9 L652.2,401.9 L653.0,401.9 L653.8,401.9 L654.6,401.9 L655.4,401.9 L656.2,401.9 L657.0,401.9 L657.8,401.9 L658.6,401.9 L659.4,401.9 L660.2,401.9 L661.0,401.9 L661.8,401.9 L662.6,401.9 L663.4,401.9 L664.2,401.9 L665.0,401.9 L665.8,401.9 L666.6,401.9 L667.4,401.9 L668.2,401.9 L669.0,401.9 L669.8,401.9 L670.6,401.9 L671.4,401.9 L672.2,401.9 L673.0,401.9 L673.8,401.9 L674.6,401.9 L675.4,401.9 L676.2,401.9 L677.0,401.9 L677.8,401.9 L678.6,401.9 L679.4,401.9 L680.2,401.9 L681.0,401.9 L681.8,401.9 L682.6,401.9 L683.4,401.9 L684.2,401.9 L685.0,401.9 L685.8,401.9 L686.6,401.9 L687.4,401.9 L688.2,401.9 L689.0,401.9 L689.8,401.9 L690.6,401.9 L691.4,401.9 L692.2,401.9 L693.0,401.9 L693.8,401.9 L694.6,401.9 L695.4,401.9 L696.2,401.9 L697.0,401.9 L697.8,401.9 L698.6,401.9 L699.4,401.9 L700.2,401.9 L701.0,401.9 L701.8,401.9 L702.6,401.9 L703.4,401.9 L704.2,401.9 L705.0,401.9 L705.8,401.9 L706.6,401.9 L707.4,401.9 L708.2,401.9 L709.0,401.9 L709.8,401.9 L710.6,401.9 L711.4,401.9 L712.2,401.9 L713.0,401.9 L713.8,401.9 L714.6,401.9 L715.4,401.9 L716.2,401.9 L717.0,401.9 L717.8,401.9 L718.6,401.9 L719.4,401.9 L720.2,401.9 L721.0,401.9 L721.8,401.9 L722.6,401.9 L723.4,401.9 L724.2,401.9 L725.0,401.9 L725.8,401.9 L726.6,401.9 L727.4,401.9 L728.2,401.9 L729.0,401.9 L729.8,401.9 L730.6,401.9 L731.4,401.9 L732.2,401.9 L733.0,401.9" stroke="#b1773c" stroke-width="2.2" stroke-dasharray="16.8 3.3 5.1 3.1"/>
<path d="M73.0,405.8 L73.8,405.7 L74.6,405.7 L75.4,405.7 L76.2,405.7 L77.0,405.6 L77.8,405.6 L78.6,405.6 L79.4,405.5 L80.2,405.5 L81.0,405.5 L81.8,405.4 L82.6,405.4 L83.4,405.4 L84.2,405.3 L85.0,405.3 L85.8,405.2 L86.6,405.2 L87.4,405.1 L88.2,405.1 L89.0,405.1 L89.8,405.0 L90.6,405.0 L91.4,404.9 L92.2,404.9 L93.0,404.8 L93.8,404.8 L94.6,404.7 L95.4,404.6 L96.1,404.6 L96.9,404.5 L97.7,404.4 L98.5,404.4 L99.3,404.3 L100.1,404.2 L100.9,404.2 L101.7,404.1 L102.5,404.0 L103.3,403.9 L104.1,403.8 L104.9,403.8 L105.7,403.7 L106.5,403.6 L107.3,403.5 L108.1,403.4 L108.9,403.3 L109.7,403.2 L110.5,403.1 L111.2,402.9 L112.0,402.8 L112.8,402.7 L113.6,402.6 L114.4,402.5 L115.2,402.3 L116.0,402.2 L116.8,402.1 L117.6,401.9 L118.3,401.8 L119.1,401.7 L119.9,401.5 L120.7,401.4 L121.5,401.2 L122.3,401.1 L123.1,401.0 L123.9,400.8 L124.7,400.6 L125.4,400.5 L126.2,400.3 L127.0,400.1 L127.8,399.9 L128.5,399.7 L129.3,399.5 L130.1,399.3 L130.8,399.0 L131.5,398.6 L132.1,398.1 L132.6,397.4 L133.0,396.7 L133.6,396.1 L134.2,395.8 L135.0,395.5 L135.8,395.3 L136.6,395.0 L137.3,394.8 L138.1,394.5 L138.8,394.3 L139.6,394.1 L140.4,393.8 L141.1,393.6 L141.9,393.4 L142.7,393.1 L143.4,392.9 L144.2,392.7 L144.9,392.4 L145.7,392.2 L146.5,392.0 L147.2,391.8 L148.0,391.5 L148.8,391.3 L149.6,391.1 L150.3,390.9 L151.1,390.7 L151.9,390.5 L152.6,390.2 L153.4,390.0 L154.2,389.8 L154.9,389.6 L155.7,389.4 L156.5,389.2 L157.3,389.0 L158.0,388.8 L158.8,388.6 L159.6,388.4 L160.3,388.1 L161.1,387.9 L161.9,387.7 L162.7,387.5 L163.4,387.3 L164.2,387.1 L165.0,386.9 L165.8,386.7 L166.5,386.5 L167.3,386.3 L168.1,386.1 L168.9,385.9 L169.6,385.7 L170.4,385.5 L171.2,385.3 L172.0,385.1 L172.7,384.9 L173.5,384.7 L174.3,384.5 L175.1,384.3 L175.8,384.1 L176.6,383.9 L177.4,383.7 L178.2,383.5 L178.9,383.3 L179.7,383.2 L180.5,383.0 L181.3,382.8 L182.0,382.6 L182.8,382.4 L183.6,382.2 L184.4,382.0 L185.1,381.8 L185.9,381.6 L186.7,381.4 L187.5,381.2 L188.2,381.0 L189.0,380.8 L189.8,380.6 L190.6,380.4 L191.3,380.2 L192.1,380.0 L192.9,379.8 L193.6,379.6 L194.4,379.4 L195.2,379.2 L196.0,379.0 L196.7,378.8 L197.5,378.6 L198.3,378.4 L199.1,378.2 L199.8,378.0 L200.6,377.8 L201.4,377.6 L202.2,377.4 L202.9,377.2 L203.7,377.0 L204.5,376.8 L205.3,376.6 L206.0,376.4 L206.8,376.2 L207.6,376.0 L208.4,375.8 L209.1,375.6 L209.9,375.4 L210.7,375.2 L211.5,375.0 L212.2,374.8 L213.0,374.6 L213.8,374.4 L214.6,374.2 L215.3,374.0 L216.1,373.8 L216.9,373.6 L217.6,373.4 L218.4,373.2 L219.2,373.0 L220.0,372.8 L220.7,372.6 L221.5,372.4 L222.3,372.2 L223.1,372.0 L223.8,371.8 L224.6,371.6 L225.4,371.4 L226.2,371.2 L226.9,371.0 L227.7,370.8 L228.5,370.6 L229.3,370.5 L230.0,370.3 L230.8,370.1 L231.6,369.9 L232.4,369.7 L233.2,369.5 L233.9,369.3 L234.7,369.1 L235.5,368.9 L236.2,368.7 L237.0,368.5 L237.8,368.3 L238.6,368.1 L239.3,367.9 L240.1,367.7 L240.9,367.5 L241.7,367.2 L242.4,367.0 L243.2,366.8 L244.0,366.6 L244.7,366.4 L245.5,366.2 L246.3,365.9 L247.0,365.7 L247.8,365.5 L248.6,365.2 L249.3,365.0 L250.1,364.8 L250.8,364.5 L251.6,364.3 L252.4,364.0 L253.1,363.8 L253.9,363.5 L254.6,363.3 L255.4,363.0 L256.2,362.8 L256.9,362.5 L257.7,362.3 L258.4,362.0 L259.2,361.8 L260.0,361.5 L260.7,361.3 L261.5,361.0 L262.2,360.8 L263.0,360.5 L263.7,360.3 L264.5,360.0 L265.3,359.8 L266.0,359.5 L266.8,359.3 L267.6,359.0 L268.3,358.8 L269.1,358.5 L269.8,358.3 L270.6,358.1 L271.4,357.8 L272.1,357.6 L272.9,357.4 L273.7,357.1 L274.4,356.9 L275.2,356.7 L275.9,356.4 L276.7,356.2 L277.5,356.0 L278.2,355.7 L279.0,355.5 L279.8,355.3 L280.5,355.0 L281.3,354.8 L282.1,354.6 L282.8,354.3 L283.6,354.1 L284.4,353.9 L285.1,353.6 L285.9,353.4 L286.7,353.2 L287.4,352.9 L288.2,352.7 L289.0,352.5 L289.7,352.2 L290.5,352.0 L291.2,351.8 L292.0,351.6 L292.8,351.3 L293.5,351.1 L294.3,350.9 L295.1,350.6 L295.8,350.4 L296.6,350.2 L297.4,349.9 L298.1,349.7 L298.9,349.5 L299.7,349.2 L300.4,349.0 L301.2,348.8 L302.0,348.5 L302.7,348.3 L303.5,348.1 L304.2,347.8 L305.0,347.6 L305.8,347.4 L306.5,347.1 L307.3,346.9 L308.1,346.7 L308.8,346.4 L309.6,346.2 L310.4,346.0 L311.1,345.7 L311.9,345.5 L312.7,345.3 L313.4,345.0 L314.2,344.8 L314.9,344.6 L315.7,344.3 L316.5,344.1 L317.2,343.9 L318.0,343.6 L318.8,343.4 L319.5,343.2 L320.3,342.9 L321.1,342.7 L321.8,342.4 L322.6,342.2 L323.4,342.0 L324.1,341.7 L324.9,341.5 L325.6,341.2 L326.4,341.0 L327.1,340.7 L327.9,340.5 L328.7,340.2 L329.4,339.9 L330.2,339.7 L330.9,339.4 L331.7,339.1 L332.4,338.9 L333.2,338.6 L333.9,338.3 L334.7,338.1 L335.4,337.8 L336.2,337.5 L336.9,337.2 L337.7,337.0 L338.4,336.7 L339.2,336.4 L339.9,336.1 L340.7,335.8 L341.4,335.5 L342.2,335.2 L342.9,334.9 L343.6,334.6 L344.4,334.3 L345.1,334.0 L345.9,333.7 L346.6,333.4 L347.3,333.1 L348.1,332.8 L348.8,332.4 L349.5,332.1 L350.2,331.8 L351.0,331.5 L351.7,331.1 L352.4,330.8 L353.2,330.5 L353.9,330.1 L354.6,329.8 L355.3,329.4 L356.1,329.1 L356.8,328.8 L357.5,328.4 L358.2,328.1 L358.9,327.7 L359.6,327.3 L360.4,327.0 L361.1,326.6 L361.8,326.2 L362.5,325.9 L363.2,325.5 L363.9,325.1 L364.6,324.7 L365.3,324.4 L366.0,324.0 L366.7,323.6 L367.4,323.3 L368.2,322.9 L368.9,322.6 L369.6,322.2 L370.3,321.9 L371.0,321.6 L371.8,321.2 L372.5,320.9 L373.2,320.6 L374.0,320.3 L374.7,320.0 L375.5,319.7 L376.2,319.4 L377.0,319.1 L377.7,318.8 L378.5,318.5 L379.2,318.2 L379.9,317.9 L380.7,317.6 L381.4,317.3 L382.2,317.0 L382.9,316.7 L383.6,316.4 L384.3,316.0 L385.1,315.7 L385.8,315.4 L386.5,315.0 L387.3,314.7 L388.0,314.4 L388.7,314.0 L389.5,313.7 L390.2,313.3 L390.9,313.0 L391.6,312.6 L392.4,312.2 L393.1,311.8 L393.8,311.5 L394.5,311.1 L395.1,310.7 L395.8,310.2 L396.5,309.8 L397.1,309.4 L397.7,308.9 L398.3,308.5 L399.0,308.0 L399.6,307.5 L400.2,306.9 L400.8,306.4 L401.4,305.9 L401.9,305.3 L402.5,304.7 L403.1,304.2 L403.6,303.6 L404.2,303.0 L404.7,302.4 L405.3,301.8 L405.8,301.1 L406.3,300.5 L406.9,299.9 L407.4,299.3 L407.9,298.7 L408.4,298.0 L408.8,297.4 L409.3,296.8 L409.8,296.1 L410.2,295.5 L410.6,294.8 L411.1,294.1 L411.5,293.4 L411.9,292.7 L412.3,292.1 L412.8,291.4 L413.2,290.7 L413.6,290.0 L414.1,289.4 L414.5,288.7 L414.9,288.0 L415.3,287.3 L415.8,286.6 L416.2,286.0 L416.6,285.3 L417.0,284.6 L417.4,283.9 L417.8,283.2 L418.1,282.5 L418.5,281.8 L418.9,281.1 L419.2,280.4 L419.6,279.6 L420.0,278.9 L420.3,278.2 L420.7,277.5 L421.0,276.8 L421.3,276.0 L421.7,275.3 L422.0,274.6 L422.3,273.9 L422.7,273.1 L423.0,272.4 L423.3,271.7 L423.6,270.9 L423.9,270.2 L424.2,269.4 L424.5,268.7 L424.8,268.0 L425.1,267.2 L425.4,266.5 L425.7,265.7 L426.0,265.0 L426.3,264.2 L426.6,263.5 L426.9,262.8 L427.2,262.0 L427.5,261.3 L427.9,260.6 L428.2,259.9 L428.5,259.1 L428.9,258.4 L429.2,257.7 L429.5,257.0 L429.9,256.2 L430.2,255.5 L430.6,254.8 L430.9,254.1 L431.3,253.4 L431.7,252.6 L432.0,251.9 L432.4,251.2 L432.8,250.5 L433.1,249.8 L433.5,249.1 L433.8,248.3 L434.2,247.6 L434.6,246.9 L434.9,246.1 L435.3,245.4 L435.7,244.7 L436.1,244.0 L436.5,243.4 L437.0,242.7 L437.4,242.1 L437.9,241.5 L438.4,240.9 L438.9,240.3 L439.5,239.7 L440.1,239.2 L440.8,238.7 L441.4,238.2 L442.1,237.7 L442.7,237.4 L443.4,237.0 L444.1,236.6 L444.9,236.2 L445.6,235.9 L446.3,235.5 L447.1,235.2 L447.9,234.9 L448.6,234.6 L449.4,234.3 L450.2,234.1 L451.0,233.9 L451.7,233.8 L452.5,233.7 L453.3,233.7 L454.1,233.7 L454.8,233.6 L455.6,233.6 L456.4,233.5 L457.2,233.5 L458.0,233.5 L458.8,233.5 L459.6,233.4 L460.3,233.4 L461.1,233.4 L461.9,233.4 L462.7,233.3 L463.5,233.3 L464.3,233.3 L465.2,233.3 L466.0,233.3 L466.8,233.2 L467.6,233.2 L468.4,233.2 L469.2,233.2 L470.0,233.2 L470.8,233.2 L471.6,233.2 L472.4,233.1 L473.2,233.1 L474.0,233.1 L474.8,233.1 L475.7,233.1 L476.5,233.1 L477.3,233.1 L478.1,233.0 L478.9,233.0 L479.7,233.0 L480.5,233.0 L481.3,233.0 L482.1,233.0 L482.9,232.9 L483.7,232.9 L484.5,232.9 L485.3,232.9 L486.1,232.9 L486.9,232.9 L487.7,232.8 L488.5,232.8 L489.3,232.8 L490.1,232.8 L490.9,232.8 L491.7,232.8 L492.5,232.8 L493.3,232.7 L494.1,232.7 L494.9,232.7 L495.7,232.7 L496.5,232.7 L497.3,232.7 L498.1,232.7 L498.9,232.7 L499.6,232.6 L500.4,232.6 L501.2,232.6 L502.0,232.6 L502.8,232.6 L503.6,232.6 L504.4,232.6 L505.2,232.5 L506.0,232.5 L506.8,232.5 L507.6,232.5 L508.4,232.5 L509.2,232.5 L510.0,232.5 L510.8,232.5 L511.6,232.4 L512.4,232.4 L513.2,232.4 L514.0,232.4 L514.8,232.4 L515.6,232.4 L516.4,232.4 L517.2,232.3 L518.0,232.3 L518.8,232.3 L519.6,232.3 L520.4,232.3 L521.2,232.3 L522.0,232.3 L522.8,232.2 L523.6,232.2 L524.4,232.2 L525.2,232.2 L526.0,232.2 L526.8,232.2 L527.6,232.2 L528.4,232.2 L529.2,232.1 L530.0,232.1 L530.8,232.1 L531.6,232.1 L532.4,232.1 L533.2,232.1 L534.0,232.1 L534.8,232.0 L535.6,232.0 L536.4,232.0 L537.2,232.0 L538.0,232.0 L538.8,232.0 L539.6,232.0 L540.4,232.0 L541.2,231.9 L542.0,231.9 L542.8,231.9 L543.6,231.9 L544.4,231.9 L545.2,231.9 L546.0,231.9 L546.8,231.9 L547.6,231.8 L548.4,231.8 L549.2,231.8 L550.0,231.8 L550.8,231.8 L551.6,231.8 L552.4,231.8 L553.2,231.8 L554.0,231.7 L554.8,231.7 L555.6,231.7 L556.4,231.7 L557.2,231.7 L558.0,231.7 L558.8,231.7 L559.6,231.7 L560.4,231.6 L561.2,231.6 L562.0,231.6 L562.8,231.6 L563.6,231.6 L564.4,231.6 L565.2,231.6 L566.0,231.6 L566.8,231.5 L567.6,231.5 L568.4,231.5 L569.2,231.5 L570.0,231.5 L570.8,231.5 L571.6,231.5 L572.4,231.5 L573.2,231.4 L574.0,231.4 L574.8,231.4 L575.6,231.4 L576.4,231.4 L577.2,231.4 L578.0,231.4 L578.8,231.4 L579.6,231.3 L580.4,231.3 L581.2,231.3 L582.0,231.3 L582.8,231.3 L583.6,231.3 L584.4,231.3 L585.2,231.3 L586.0,231.2 L586.8,231.2 L587.6,231.2 L588.4,231.2 L589.2,231.2 L590.0,231.2 L590.8,231.2 L591.6,231.2 L592.4,231.1 L593.2,231.1 L594.0,231.1 L594.8,231.1 L595.6,231.1 L596.3,231.1 L597.1,231.1 L597.9,231.1 L598.7,231.0 L599.5,231.0 L600.3,231.0 L601.1,231.0 L601.9,231.0 L602.7,231.0 L603.5,231.0 L604.3,230.9 L605.1,230.9 L605.9,230.9 L606.7,230.9 L607.5,230.9 L608.3,230.9 L609.1,230.9 L609.9,230.9 L610.7,230.8 L611.5,230.8 L612.3,230.8 L613.1,230.8 L613.9,230.8 L614.7,230.8 L615.5,230.8 L616.3,230.8 L617.1,230.7 L617.9,230.7 L618.7,230.7 L619.5,230.7 L620.3,230.7 L621.1,230.7 L621.9,230.7 L622.7,230.7 L623.5,230.6 L624.3,230.6 L625.1,230.6 L625.9,230.6 L626.7,230.6 L627.5,230.6 L628.3,230.6 L629.1,230.6 L629.9,230.5 L630.7,230.5 L631.5,230.5 L632.3,230.5 L633.1,230.5 L633.9,230.5 L634.7,230.5 L635.5,230.4 L636.3,230.4 L637.1,230.4 L637.9,230.4 L638.7,230.4 L639.5,230.4 L640.3,230.4 L641.1,230.4 L641.9,230.3 L642.7,230.3 L643.5,230.3 L644.3,230.3 L645.1,230.3 L645.9,230.3 L646.7,230.3 L647.5,230.2 L648.3,230.2 L649.1,230.2 L649.9,230.2 L650.7,230.2 L651.5,230.2 L652.3,230.2 L653.1,230.1 L653.9,230.1 L654.7,230.1 L655.5,230.1 L656.3,230.1 L657.1,230.1 L657.9,230.1 L658.7,230.0 L659.5,230.0 L660.3,230.0 L661.1,230.0 L661.9,230.0 L662.7,230.0 L663.5,230.0 L664.3,229.9 L665.1,229.9 L665.9,229.9 L666.7,229.9 L667.5,229.9 L668.3,229.9 L669.1,229.9 L669.9,229.8 L670.7,229.8 L671.5,229.8 L672.3,229.8 L673.1,229.8 L673.9,229.8 L674.7,229.8 L675.5,229.7 L676.3,229.7 L677.1,229.7 L677.9,229.7 L678.7,229.7 L679.5,229.7 L680.3,229.6 L681.1,229.6 L681.9,229.6 L682.7,229.6 L683.5,229.6 L684.3,229.6 L685.1,229.6 L685.9,229.5 L686.7,229.5 L687.5,229.5 L688.3,229.5 L689.1,229.5 L689.8,229.5 L690.6,229.4 L691.4,229.4 L692.2,229.4 L693.0,229.4 L693.8,229.4 L694.6,229.4 L695.4,229.3 L696.2,229.3 L697.0,229.3 L697.8,229.3 L698.6,229.3 L699.4,229.3 L700.2,229.2 L701.0,229.2 L701.8,229.2 L702.6,229.2 L703.4,229.2 L704.2,229.2 L705.0,229.1 L705.8,229.1 L706.6,229.1 L707.4,229.1 L708.2,229.1 L709.0,229.1 L709.8,229.0 L710.6,229.0 L711.4,229.0 L712.2,229.0 L713.0,229.0 L713.8,228.9 L714.6,228.9 L715.4,228.9 L716.2,228.9 L717.0,228.9 L717.8,228.9 L718.6,228.8 L719.4,228.8 L720.2,228.8 L721.0,228.8 L721.8,228.8 L722.6,228.7 L723.4,228.7 L724.2,228.7 L725.0,228.7 L725.8,228.7 L726.6,228.6 L727.4,228.6 L728.2,228.6 L729.0,228.6 L729.8,228.6 L730.6,228.6 L731.4,228.5 L732.2,228.5 L733.0,228.5" stroke="#0546aa" stroke-width="2.6" stroke-dasharray="7.8 3.3"/>
<path d="M73.0,405.8 L73.8,405.7 L74.6,405.7 L75.4,405.7 L76.2,405.7 L77.0,405.6 L77.8,405.6 L78.6,405.6 L79.4,405.5 L80.2,405.5 L81.0,405.5 L81.8,405.4 L82.6,405.4 L83.4,405.4 L84.2,405.3 L85.0,405.3 L85.8,405.2 L86.6,405.2 L87.4,405.1 L88.2,405.1 L89.0,405.1 L89.8,405.0 L90.6,405.0 L91.4,404.9 L92.2,404.9 L93.0,404.8 L93.8,404.8 L94.6,404.7 L95.4,404.6 L96.2,404.6 L97.0,404.5 L97.8,404.4 L98.6,404.4 L99.4,404.3 L100.2,404.2 L101.0,404.2 L101.8,404.1 L102.5,404.0 L103.3,403.9 L104.1,403.8 L104.9,403.8 L105.7,403.7 L106.5,403.6 L107.3,403.5 L108.1,403.4 L108.9,403.3 L109.7,403.2 L110.5,403.1 L111.3,402.9 L112.1,402.8 L112.9,402.7 L113.7,402.6 L114.4,402.5 L115.2,402.3 L116.0,402.2 L116.8,402.1 L117.6,401.9 L118.4,401.8 L119.2,401.6 L120.0,401.5 L120.8,401.4 L121.5,401.2 L122.3,401.1 L123.1,400.9 L123.9,400.8 L124.7,400.6 L125.5,400.5 L126.3,400.3 L127.0,400.1 L127.8,399.9 L128.6,399.7 L129.3,399.5 L130.1,399.2 L130.9,398.9 L131.6,398.6 L132.1,398.0 L132.6,397.3 L133.1,396.6 L133.6,396.1 L134.3,395.7 L135.1,395.5 L135.9,395.2 L136.6,395.0 L137.4,394.8 L138.1,394.5 L138.9,394.3 L139.7,394.0 L140.4,393.8 L141.2,393.6 L142.0,393.3 L142.7,393.1 L143.5,392.9 L144.3,392.7 L145.0,392.4 L145.8,392.2 L146.6,392.0 L147.3,391.8 L148.1,391.6 L148.9,391.3 L149.6,391.1 L150.4,390.9 L151.2,390.7 L152.0,390.5 L152.7,390.3 L153.5,390.1 L154.3,389.9 L155.0,389.6 L155.8,389.4 L156.6,389.2 L157.4,389.0 L158.1,388.8 L158.9,388.6 L159.7,388.4 L160.5,388.2 L161.2,388.0 L162.0,387.7 L162.8,387.5 L163.5,387.3 L164.3,387.1 L165.1,386.9 L165.8,386.7 L166.6,386.4 L167.4,386.2 L168.2,386.0 L168.9,385.8 L169.7,385.6 L170.5,385.4 L171.2,385.1 L172.0,384.9 L172.8,384.7 L173.5,384.5 L174.3,384.3 L175.1,384.0 L175.9,383.8 L176.6,383.6 L177.4,383.4 L178.2,383.2 L178.9,383.0 L179.7,382.7 L180.5,382.5 L181.2,382.3 L182.0,382.1 L182.8,381.9 L183.6,381.7 L184.3,381.4 L185.1,381.2 L185.9,381.0 L186.6,380.8 L187.4,380.6 L188.2,380.4 L188.9,380.2 L189.7,379.9 L190.5,379.7 L191.3,379.5 L192.0,379.3 L192.8,379.1 L193.6,378.9 L194.3,378.7 L195.1,378.5 L195.9,378.2 L196.7,378.0 L197.4,377.8 L198.2,377.6 L199.0,377.4 L199.8,377.2 L200.5,377.0 L201.3,376.8 L202.1,376.6 L202.8,376.4 L203.6,376.2 L204.4,376.0 L205.2,375.8 L205.9,375.6 L206.7,375.4 L207.5,375.1 L208.3,374.9 L209.0,374.7 L209.8,374.5 L210.6,374.3 L211.3,374.1 L212.1,373.9 L212.9,373.7 L213.7,373.5 L214.4,373.3 L215.2,373.1 L216.0,372.9 L216.8,372.7 L217.5,372.5 L218.3,372.3 L219.1,372.1 L219.8,371.8 L220.6,371.6 L221.4,371.4 L222.2,371.2 L222.9,371.0 L223.7,370.8 L224.5,370.6 L225.3,370.4 L226.0,370.2 L226.8,370.0 L227.6,369.8 L228.3,369.5 L229.1,369.3 L229.9,369.1 L230.7,368.9 L231.4,368.7 L232.2,368.5 L233.0,368.3 L233.8,368.1 L234.5,367.9 L235.3,367.7 L236.1,367.4 L236.8,367.2 L237.6,367.0 L238.4,366.8 L239.1,366.6 L239.9,366.4 L240.7,366.2 L241.5,365.9 L242.2,365.7 L243.0,365.5 L243.8,365.3 L244.5,365.0 L245.3,364.8 L246.1,364.6 L246.8,364.4 L247.6,364.1 L248.4,363.9 L249.1,363.7 L249.9,363.4 L250.6,363.2 L251.4,362.9 L252.2,362.7 L252.9,362.5 L253.7,362.2 L254.5,362.0 L255.2,361.7 L256.0,361.5 L256.7,361.2 L257.5,361.0 L258.3,360.8 L259.0,360.5 L259.8,360.3 L260.6,360.0 L261.3,359.8 L262.1,359.5 L262.8,359.3 L263.6,359.0 L264.4,358.8 L265.1,358.5 L265.9,358.3 L266.6,358.0 L267.4,357.8 L268.2,357.5 L268.9,357.3 L269.7,357.0 L270.4,356.8 L271.2,356.6 L272.0,356.3 L272.7,356.1 L273.5,355.8 L274.3,355.6 L275.0,355.3 L275.8,355.1 L276.5,354.8 L277.3,354.6 L278.1,354.3 L278.8,354.1 L279.6,353.8 L280.3,353.6 L281.1,353.4 L281.9,353.1 L282.6,352.9 L283.4,352.6 L284.1,352.4 L284.9,352.1 L285.7,351.9 L286.4,351.6 L287.2,351.4 L287.9,351.1 L288.7,350.9 L289.5,350.6 L290.2,350.4 L291.0,350.1 L291.7,349.8 L292.5,349.6 L293.3,349.3 L294.0,349.1 L294.8,348.8 L295.5,348.6 L296.3,348.3 L297.0,348.1 L297.8,347.8 L298.6,347.5 L299.3,347.3 L300.1,347.0 L300.8,346.8 L301.6,346.5 L302.3,346.2 L303.1,346.0 L303.9,345.7 L304.6,345.4 L305.4,345.2 L306.1,344.9 L306.9,344.6 L307.6,344.4 L308.4,344.1 L309.1,343.8 L309.9,343.6 L310.6,343.3 L311.4,343.0 L312.1,342.7 L312.9,342.4 L313.6,342.2 L314.4,341.9 L315.1,341.6 L315.9,341.3 L316.6,341.0 L317.4,340.7 L318.1,340.5 L318.9,340.2 L319.6,339.9 L320.3,339.6 L321.1,339.3 L321.8,339.0 L322.6,338.7 L323.3,338.4 L324.1,338.1 L324.8,337.8 L325.6,337.5 L326.3,337.2 L327.0,336.9 L327.8,336.6 L328.5,336.3 L329.3,336.0 L330.0,335.7 L330.8,335.5 L331.5,335.2 L332.3,334.9 L333.0,334.6 L333.7,334.3 L334.5,334.0 L335.2,333.7 L336.0,333.4 L336.7,333.1 L337.4,332.8 L338.2,332.5 L338.9,332.1 L339.7,331.8 L340.4,331.5 L341.1,331.2 L341.9,330.9 L342.6,330.5 L343.3,330.2 L344.0,329.9 L344.8,329.5 L345.5,329.2 L346.2,328.9 L346.9,328.5 L347.7,328.2 L348.4,327.8 L349.1,327.5 L349.8,327.1 L350.5,326.7 L351.2,326.4 L351.9,326.0 L352.7,325.6 L353.4,325.2 L354.1,324.9 L354.8,324.5 L355.5,324.1 L356.2,323.7 L356.9,323.3 L357.6,322.9 L358.2,322.5 L358.9,322.0 L359.6,321.6 L360.2,321.1 L360.9,320.7 L361.5,320.2 L362.1,319.7 L362.8,319.2 L363.4,318.7 L364.0,318.2 L364.6,317.7 L365.2,317.1 L365.8,316.6 L366.4,316.0 L367.0,315.5 L367.5,314.9 L368.1,314.4 L368.7,313.8 L369.3,313.3 L369.8,312.7 L370.4,312.1 L370.9,311.5 L371.5,311.0 L372.0,310.4 L372.6,309.8 L373.1,309.2 L373.6,308.6 L374.2,308.0 L374.7,307.4 L375.2,306.8 L375.7,306.2 L376.3,305.6 L376.8,305.0 L377.3,304.4 L377.8,303.7 L378.3,303.1 L378.9,302.5 L379.4,301.9 L379.9,301.3 L380.4,300.6 L380.9,300.0 L381.4,299.4 L381.8,298.7 L382.3,298.1 L382.8,297.5 L383.2,296.8 L383.7,296.2 L384.2,295.5 L384.6,294.8 L385.1,294.2 L385.5,293.5 L386.0,292.8 L386.4,292.1 L386.8,291.5 L387.2,290.8 L387.6,290.1 L388.0,289.4 L388.3,288.7 L388.7,288.0 L389.0,287.3 L389.4,286.5 L389.7,285.8 L390.1,285.1 L390.4,284.3 L390.7,283.6 L391.0,282.9 L391.3,282.1 L391.6,281.4 L391.9,280.6 L392.2,279.9 L392.5,279.1 L392.8,278.4 L393.1,277.6 L393.4,276.9 L393.6,276.1 L393.9,275.4 L394.2,274.6 L394.4,273.9 L394.7,273.1 L394.9,272.4 L395.2,271.6 L395.4,270.8 L395.6,270.1 L395.9,269.3 L396.1,268.5 L396.3,267.8 L396.6,267.0 L396.8,266.2 L397.0,265.5 L397.2,264.7 L397.4,263.9 L397.7,263.2 L397.9,262.4 L398.1,261.6 L398.3,260.8 L398.5,260.1 L398.7,259.3 L399.0,258.5 L399.2,257.8 L399.4,257.0 L399.6,256.2 L399.8,255.4 L400.0,254.7 L400.2,253.9 L400.4,253.1 L400.6,252.3 L400.8,251.6 L401.0,250.8 L401.2,250.0 L401.4,249.2 L401.5,248.5 L401.7,247.7 L401.9,246.9 L402.0,246.1 L402.2,245.3 L402.3,244.5 L402.5,243.8 L402.6,243.0 L402.8,242.2 L402.9,241.4 L403.0,240.6 L403.2,239.8 L403.3,239.0 L403.4,238.2 L403.6,237.4 L403.7,236.7 L403.8,235.9 L403.9,235.1 L404.1,234.3 L404.2,233.5 L404.3,232.7 L404.4,231.9 L404.5,231.1 L404.7,230.3 L404.8,229.5 L404.9,228.7 L405.0,228.0 L405.1,227.2 L405.2,226.4 L405.4,225.6 L405.5,224.8 L405.6,224.0 L405.7,223.2 L405.8,222.4 L405.9,221.6 L406.1,220.8 L406.2,220.0 L406.3,219.2 L406.4,218.5 L406.5,217.7 L406.6,216.9 L406.7,216.1 L406.8,215.3 L406.9,214.5 L407.1,213.7 L407.2,212.9 L407.3,212.1 L407.4,211.3 L407.5,210.5 L407.6,209.7 L407.7,208.9 L407.8,208.1 L407.9,207.4 L408.0,206.6 L408.1,205.8 L408.2,205.0 L408.3,204.2 L408.4,203.4 L408.5,202.6 L408.6,201.8 L408.7,201.0 L408.8,200.2 L408.9,199.4 L409.0,198.6 L409.1,197.8 L409.2,197.0 L409.3,196.2 L409.4,195.4 L409.5,194.6 L409.6,193.9 L409.7,193.1 L409.7,192.3 L409.8,191.5 L409.9,190.7 L410.0,189.9 L410.1,189.1 L410.2,188.3 L410.3,187.5 L410.4,186.7 L410.4,185.9 L410.5,185.1 L410.6,184.3 L410.7,183.5 L410.7,182.7 L410.8,181.9 L410.9,181.1 L411.0,180.3 L411.0,179.5 L411.1,178.7 L411.2,177.9 L411.3,177.1 L411.3,176.3 L411.4,175.5 L411.5,174.8 L411.5,174.0 L411.6,173.2 L411.7,172.4 L411.7,171.6 L411.8,170.8 L411.9,170.0 L411.9,169.2 L412.0,168.4 L412.1,167.6 L412.2,166.8 L412.2,166.0 L412.3,165.2 L412.4,164.4 L412.4,163.6 L412.5,162.8 L412.6,162.0 L412.6,161.2 L412.7,160.4 L412.8,159.6 L412.9,158.8 L412.9,158.0 L413.0,157.2 L413.1,156.4 L413.2,155.6 L413.2,154.8 L413.3,154.0 L413.4,153.2 L413.5,152.4 L413.6,151.6 L413.7,150.8 L413.7,150.1 L413.8,149.3 L413.9,148.5 L414.0,147.7 L414.1,146.9 L414.2,146.1 L414.3,145.3 L414.4,144.5 L414.5,143.7 L414.7,142.9 L414.8,142.1 L414.9,141.3 L415.0,140.5 L415.1,139.7 L415.2,138.9 L415.3,138.2 L415.4,137.4 L415.5,136.6 L415.6,135.8 L415.7,135.0 L415.8,134.2 L415.9,133.4 L416.0,132.6 L416.1,131.8 L416.2,131.0 L416.3,130.2 L416.4,129.4 L416.5,128.6 L416.5,127.8 L416.6,127.0 L416.7,126.2 L416.7,125.4 L416.8,124.6 L416.9,123.8 L416.9,123.0 L417.0,122.3 L417.1,121.5 L417.1,120.7 L417.2,119.9 L417.2,119.1 L417.3,118.3 L417.3,117.5 L417.4,116.7 L417.5,115.9 L417.5,115.1 L417.6,114.3 L417.6,113.5 L417.7,112.7 L417.7,111.9 L417.8,111.1 L417.9,110.3 L417.9,109.5 L418.0,108.7 L418.1,107.9 L418.1,107.1 L418.2,106.3 L418.3,105.5 L418.3,104.7 L418.4,103.9 L418.5,103.1 L418.6,102.3 L418.7,101.5 L418.7,100.7 L418.8,99.9 L418.9,99.1 L419.0,98.3 L419.1,97.5 L419.2,96.7 L419.3,96.0 L419.4,95.2 L419.5,94.4 L419.6,93.6 L419.7,92.8 L419.8,92.0 L419.9,91.2 L420.0,90.4 L420.1,89.6 L420.2,88.8 L420.3,88.0 L420.4,87.2 L420.5,86.4 L420.6,85.6 L420.7,84.8 L420.8,84.1 L421.0,83.3 L421.1,82.5 L421.2,81.7 L421.3,80.9 L421.4,80.1 L421.6,79.3 L421.7,78.5 L421.8,77.7 L421.9,76.9 L422.1,76.1 L422.2,75.4 L422.3,74.6 L422.5,73.8 L422.6,73.0 L422.7,72.2 L422.9,71.4 L423.0,70.6 L423.1,69.8 L423.3,69.0 L423.4,68.3 L423.6,67.5 L423.7,66.7 L423.9,65.9 L424.0,65.1 L424.2,64.3 L424.3,63.5 L424.5,62.8 L424.7,62.0 L424.8,61.2 L425.0,60.4 L425.2,59.6 L425.4,58.9 L425.6,58.1 L425.8,57.3 L426.0,56.5 L426.2,55.8 L426.4,55.0 L426.7,54.2 L427.0,53.5 L427.3,52.7 L427.8,52.2 L428.5,51.8 L429.2,52.2 L429.7,52.8 L430.1,53.6 L430.4,54.4 L430.6,55.1 L430.8,55.9 L431.0,56.7 L431.2,57.4 L431.3,58.2 L431.5,59.0 L431.6,59.8 L431.7,60.6 L431.8,61.4 L431.8,62.2 L431.9,63.0 L432.0,63.8 L432.1,64.6 L432.1,65.4 L432.2,66.2 L432.3,67.0 L432.4,67.8 L432.5,68.6 L432.6,69.4 L432.7,70.2 L432.8,71.0 L432.8,71.7 L432.9,72.5 L433.0,73.3 L433.1,74.1 L433.2,74.9 L433.3,75.7 L433.4,76.5 L433.5,77.3 L433.6,78.1 L433.7,78.9 L433.8,79.7 L433.9,80.5 L434.0,81.3 L434.1,82.1 L434.2,82.9 L434.3,83.7 L434.4,84.5 L434.4,85.3 L434.5,86.0 L434.6,86.8 L434.7,87.6 L434.8,88.4 L434.9,89.2 L435.0,90.0 L435.1,90.8 L435.2,91.6 L435.3,92.4 L435.4,93.2 L435.6,94.0 L435.7,94.8 L435.8,95.6 L435.9,96.4 L436.0,97.2 L436.1,98.0 L436.2,98.7 L436.3,99.5 L436.4,100.3 L436.5,101.1 L436.5,101.9 L436.6,102.7 L436.7,103.5 L436.8,104.3 L436.9,105.1 L437.0,105.9 L437.1,106.7 L437.1,107.5 L437.2,108.3 L437.3,109.1 L437.4,109.9 L437.5,110.7 L437.5,111.5 L437.6,112.3 L437.7,113.1 L437.8,113.9 L437.8,114.7 L437.9,115.5 L438.0,116.2 L438.1,117.0 L438.1,117.8 L438.2,118.6 L438.3,119.4 L438.3,120.2 L438.4,121.0 L438.5,121.8 L438.5,122.6 L438.6,123.4 L438.7,124.2 L438.7,125.0 L438.8,125.8 L438.9,126.6 L438.9,127.4 L439.0,128.2 L439.1,129.0 L439.1,129.8 L439.2,130.6 L439.3,131.4 L439.3,132.2 L439.4,133.0 L439.5,133.8 L439.5,134.6 L439.6,135.4 L439.6,136.2 L439.7,137.0 L439.7,137.8 L439.8,138.6 L439.9,139.4 L439.9,140.2 L440.0,141.0 L440.0,141.8 L440.1,142.6 L440.2,143.4 L440.2,144.2 L440.3,145.0 L440.3,145.8 L440.4,146.6 L440.5,147.3 L440.5,148.1 L440.6,148.9 L440.7,149.7 L440.7,150.5 L440.8,151.3 L440.9,152.1 L441.0,152.9 L441.1,153.7 L441.1,154.5 L441.2,155.3 L441.3,156.1 L441.4,156.9 L441.5,157.7 L441.5,158.5 L441.6,159.3 L441.7,160.1 L441.8,160.9 L441.9,161.7 L442.0,162.5 L442.1,163.3 L442.2,164.1 L442.2,164.9 L442.3,165.7 L442.4,166.4 L442.5,167.2 L442.6,168.0 L442.7,168.8 L442.8,169.6 L442.9,170.4 L443.0,171.2 L443.1,172.0 L443.2,172.8 L443.3,173.6 L443.4,174.4 L443.5,175.2 L443.6,176.0 L443.7,176.8 L443.8,177.6 L443.9,178.4 L443.9,179.2 L444.0,180.0 L444.1,180.7 L444.2,181.5 L444.3,182.3 L444.4,183.1 L444.5,183.9 L444.6,184.7 L444.7,185.5 L444.8,186.3 L444.9,187.1 L445.0,187.9 L445.1,188.7 L445.1,189.5 L445.2,190.3 L445.3,191.1 L445.4,191.9 L445.5,192.7 L445.6,193.5 L445.7,194.3 L445.8,195.1 L445.9,195.9 L446.0,196.7 L446.1,197.5 L446.2,198.3 L446.3,199.1 L446.4,199.9 L446.5,200.6 L446.6,201.4 L446.7,202.2 L446.8,203.0 L446.9,203.8 L447.1,204.6 L447.2,205.4 L447.3,206.2 L447.4,207.0 L447.5,207.8 L447.7,208.6 L447.8,209.3 L447.9,210.1 L448.0,210.9 L448.2,211.7 L448.3,212.5 L448.4,213.3 L448.6,214.1 L448.7,214.8 L448.9,215.6 L449.0,216.4 L449.2,217.2 L449.3,218.0 L449.5,218.8 L449.7,219.6 L449.8,220.3 L450.0,221.1 L450.2,221.9 L450.4,222.7 L450.6,223.5 L450.8,224.3 L451.0,225.0 L451.2,225.8 L451.4,226.6 L451.6,227.4 L451.9,228.1 L452.1,228.9 L452.3,229.7 L452.6,230.4 L452.8,231.2 L453.1,231.9 L453.4,232.7 L453.6,233.4 L453.9,234.1 L454.2,234.9 L454.5,235.7 L454.8,236.5 L455.1,237.3 L455.5,238.1 L455.8,238.9 L456.2,239.6 L456.6,240.4 L457.0,241.2 L457.4,241.9 L457.8,242.5 L458.3,243.2 L458.7,243.8 L459.2,244.3 L459.7,244.8 L460.2,245.2 L460.8,245.6 L461.5,246.0 L462.2,246.4 L463.0,246.8 L463.8,247.1 L464.6,247.4 L465.4,247.7 L466.2,247.9 L467.0,248.0 L467.8,248.0 L468.5,248.0 L469.3,248.0 L470.1,248.0 L470.9,247.9 L471.7,247.9 L472.5,247.9 L473.3,247.9 L474.1,247.8 L474.9,247.8 L475.7,247.7 L476.6,247.7 L477.4,247.6 L478.2,247.6 L479.0,247.6 L479.8,247.5 L480.6,247.5 L481.4,247.4 L482.2,247.4 L483.0,247.3 L483.8,247.2 L484.6,247.2 L485.4,247.1 L486.1,247.0 L486.9,246.9 L487.7,246.8 L488.5,246.8 L489.3,246.7 L490.1,246.6 L490.9,246.5 L491.7,246.4 L492.5,246.3 L493.3,246.2 L494.1,246.1 L494.9,246.0 L495.7,245.9 L496.5,245.8 L497.3,245.7 L498.1,245.6 L498.9,245.5 L499.7,245.4 L500.5,245.3 L501.2,245.2 L502.0,245.1 L502.8,245.0 L503.6,244.9 L504.4,244.8 L505.2,244.8 L506.0,244.7 L506.8,244.6 L507.6,244.5 L508.4,244.5 L509.2,244.4 L510.0,244.3 L510.8,244.3 L511.6,244.2 L512.4,244.2 L513.2,244.1 L514.0,244.0 L514.8,244.0 L515.6,243.9 L516.4,243.9 L517.2,243.8 L518.0,243.8 L518.8,243.7 L519.6,243.7 L520.4,243.6 L521.2,243.6 L522.0,243.5 L522.8,243.5 L523.6,243.4 L524.4,243.4 L525.2,243.3 L526.0,243.3 L526.8,243.2 L527.6,243.2 L528.4,243.1 L529.2,243.1 L530.0,243.0 L530.8,242.9 L531.6,242.9 L532.4,242.8 L533.2,242.8 L534.0,242.7 L534.7,242.7 L535.5,242.6 L536.3,242.6 L537.1,242.5 L537.9,242.5 L538.7,242.4 L539.5,242.3 L540.3,242.3 L541.1,242.2 L541.9,242.2 L542.7,242.1 L543.5,242.1 L544.3,242.0 L545.1,241.9 L545.9,241.9 L546.7,241.8 L547.5,241.8 L548.3,241.7 L549.1,241.6 L549.9,241.6 L550.7,241.5 L551.5,241.5 L552.3,241.4 L553.1,241.4 L553.9,241.3 L554.7,241.2 L555.5,241.2 L556.3,241.1 L557.1,241.1 L557.9,241.0 L558.7,241.0 L559.5,240.9 L560.3,240.9 L561.1,240.8 L561.9,240.8 L562.7,240.7 L563.5,240.7 L564.3,240.6 L565.1,240.6 L565.9,240.5 L566.7,240.5 L567.5,240.4 L568.3,240.4 L569.1,240.3 L569.9,240.3 L570.7,240.2 L571.5,240.2 L572.3,240.2 L573.1,240.1 L573.9,240.1 L574.7,240.0 L575.5,240.0 L576.3,240.0 L577.1,239.9 L577.9,239.9 L578.7,239.9 L579.5,239.8 L580.3,239.8 L581.1,239.8 L581.9,239.7 L582.7,239.7 L583.5,239.7 L584.3,239.6 L585.1,239.6 L585.8,239.6 L586.6,239.6 L587.4,239.5 L588.2,239.5 L589.0,239.5 L589.8,239.4 L590.6,239.4 L591.4,239.4 L592.2,239.4 L593.0,239.3 L593.8,239.3 L594.6,239.3 L595.4,239.3 L596.2,239.2 L597.0,239.2 L597.8,239.2 L598.6,239.2 L599.4,239.1 L600.2,239.1 L601.0,239.1 L601.8,239.1 L602.6,239.0 L603.4,239.0 L604.2,239.0 L605.0,239.0 L605.8,238.9 L606.6,238.9 L607.4,238.9 L608.2,238.9 L609.0,238.8 L609.8,238.8 L610.6,238.8 L611.4,238.8 L612.2,238.8 L613.0,238.7 L613.8,238.7 L614.6,238.7 L615.4,238.7 L616.2,238.7 L617.0,238.6 L617.8,238.6 L618.6,238.6 L619.4,238.6 L620.2,238.6 L621.0,238.5 L621.8,238.5 L622.6,238.5 L623.4,238.5 L624.2,238.5 L625.0,238.4 L625.8,238.4 L626.6,238.4 L627.4,238.4 L628.2,238.4 L629.0,238.3 L629.8,238.3 L630.6,238.3 L631.4,238.3 L632.2,238.3 L633.0,238.3 L633.8,238.2 L634.6,238.2 L635.4,238.2 L636.2,238.2 L637.0,238.2 L637.8,238.1 L638.6,238.1 L639.4,238.1 L640.2,238.1 L641.0,238.1 L641.8,238.1 L642.6,238.0 L643.4,238.0 L644.2,238.0 L645.0,238.0 L645.8,238.0 L646.6,238.0 L647.4,237.9 L648.2,237.9 L649.0,237.9 L649.8,237.9 L650.6,237.9 L651.4,237.8 L652.2,237.8 L653.0,237.8 L653.8,237.8 L654.6,237.8 L655.4,237.8 L656.2,237.7 L657.0,237.7 L657.8,237.7 L658.6,237.7 L659.4,237.7 L660.2,237.7 L661.0,237.6 L661.8,237.6 L662.6,237.6 L663.4,237.6 L664.2,237.6 L665.0,237.6 L665.8,237.5 L666.6,237.5 L667.4,237.5 L668.2,237.5 L669.0,237.5 L669.8,237.4 L670.6,237.4 L671.4,237.4 L672.2,237.4 L673.0,237.4 L673.8,237.4 L674.6,237.3 L675.4,237.3 L676.2,237.3 L677.0,237.3 L677.8,237.3 L678.6,237.2 L679.4,237.2 L680.2,237.2 L681.0,237.2 L681.8,237.2 L682.6,237.1 L683.4,237.1 L684.2,237.1 L685.0,237.1 L685.8,237.1 L686.6,237.0 L687.4,237.0 L688.2,237.0 L689.0,237.0 L689.8,237.0 L690.6,236.9 L691.4,236.9 L692.2,236.9 L693.0,236.9 L693.8,236.8 L694.6,236.8 L695.4,236.8 L696.2,236.8 L697.0,236.8 L697.8,236.7 L698.6,236.7 L699.4,236.7 L700.2,236.7 L701.0,236.7 L701.8,236.6 L702.6,236.6 L703.4,236.6 L704.2,236.6 L705.0,236.5 L705.8,236.5 L706.6,236.5 L707.4,236.5 L708.2,236.5 L709.0,236.4 L709.8,236.4 L710.6,236.4 L711.4,236.4 L712.2,236.4 L713.0,236.3 L713.8,236.3 L714.6,236.3 L715.4,236.3 L716.2,236.3 L717.0,236.2 L717.8,236.2 L718.6,236.2 L719.4,236.2 L720.2,236.1 L721.0,236.1 L721.8,236.1 L722.6,236.1 L723.4,236.1 L724.2,236.0 L725.0,236.0 L725.8,236.0 L726.6,236.0 L727.4,236.0 L728.2,235.9 L729.0,235.9 L729.8,235.9 L730.6,235.9 L731.4,235.8 L732.2,235.8 L733.0,235.8" stroke="#0a1cff" stroke-width="2.3"/>
<path d="M73.0,405.8 L73.8,405.7 L74.6,405.7 L75.4,405.7 L76.2,405.7 L77.0,405.6 L77.8,405.6 L78.6,405.6 L79.4,405.5 L80.2,405.5 L81.0,405.5 L81.8,405.4 L82.6,405.4 L83.4,405.4 L84.2,405.3 L85.0,405.3 L85.8,405.2 L86.6,405.2 L87.4,405.1 L88.2,405.1 L89.0,405.1 L89.8,405.0 L90.6,405.0 L91.4,404.9 L92.2,404.9 L93.0,404.8 L93.8,404.8 L94.6,404.7 L95.4,404.6 L96.2,404.6 L97.0,404.5 L97.8,404.4 L98.6,404.4 L99.4,404.3 L100.2,404.2 L101.0,404.2 L101.8,404.1 L102.5,404.0 L103.3,403.9 L104.1,403.8 L104.9,403.8 L105.7,403.7 L106.5,403.6 L107.3,403.5 L108.1,403.4 L108.9,403.3 L109.7,403.2 L110.5,403.1 L111.3,402.9 L112.1,402.8 L112.9,402.7 L113.7,402.6 L114.4,402.5 L115.2,402.3 L116.0,402.2 L116.8,402.1 L117.6,401.9 L118.4,401.8 L119.2,401.6 L120.0,401.5 L120.8,401.4 L121.5,401.2 L122.3,401.1 L123.1,400.9 L123.9,400.8 L124.7,400.6 L125.5,400.5 L126.3,400.3 L127.0,400.1 L127.8,399.9 L128.6,399.7 L129.4,399.5 L130.1,399.2 L130.9,398.9 L131.6,398.6 L132.1,398.0 L132.6,397.3 L133.1,396.6 L133.6,396.1 L134.3,395.7 L135.1,395.5 L135.9,395.2 L136.6,395.0 L137.4,394.8 L138.1,394.5 L138.9,394.3 L139.7,394.1 L140.4,393.8 L141.2,393.6 L142.0,393.4 L142.7,393.1 L143.5,392.9 L144.3,392.7 L145.0,392.5 L145.8,392.3 L146.6,392.0 L147.3,391.8 L148.1,391.6 L148.9,391.4 L149.6,391.2 L150.4,391.0 L151.2,390.7 L152.0,390.5 L152.7,390.3 L153.5,390.1 L154.3,389.9 L155.0,389.7 L155.8,389.5 L156.6,389.3 L157.4,389.1 L158.1,388.9 L158.9,388.7 L159.7,388.5 L160.5,388.3 L161.2,388.1 L162.0,387.9 L162.8,387.7 L163.6,387.5 L164.3,387.3 L165.1,387.1 L165.9,386.9 L166.7,386.7 L167.5,386.5 L168.2,386.3 L169.0,386.1 L169.8,386.0 L170.6,385.8 L171.3,385.6 L172.1,385.4 L172.9,385.2 L173.7,385.0 L174.5,384.8 L175.2,384.6 L176.0,384.4 L176.8,384.3 L177.6,384.1 L178.4,383.9 L179.1,383.7 L179.9,383.5 L180.7,383.3 L181.5,383.1 L182.2,383.0 L183.0,382.8 L183.8,382.6 L184.6,382.4 L185.4,382.2 L186.1,382.0 L186.9,381.8 L187.7,381.7 L188.5,381.5 L189.3,381.3 L190.0,381.1 L190.8,380.9 L191.6,380.7 L192.4,380.5 L193.1,380.3 L193.9,380.2 L194.7,380.0 L195.5,379.8 L196.3,379.6 L197.0,379.4 L197.8,379.2 L198.6,379.1 L199.4,378.9 L200.2,378.7 L200.9,378.5 L201.7,378.3 L202.5,378.2 L203.3,378.0 L204.1,377.8 L204.8,377.6 L205.6,377.5 L206.4,377.3 L207.2,377.1 L208.0,376.9 L208.7,376.8 L209.5,376.6 L210.3,376.4 L211.1,376.3 L211.9,376.1 L212.6,375.9 L213.4,375.7 L214.2,375.6 L215.0,375.4 L215.8,375.2 L216.6,375.1 L217.3,374.9 L218.1,374.7 L218.9,374.6 L219.7,374.4 L220.5,374.2 L221.2,374.0 L222.0,373.9 L222.8,373.7 L223.6,373.5 L224.4,373.4 L225.2,373.2 L225.9,373.0 L226.7,372.8 L227.5,372.7 L228.3,372.5 L229.1,372.3 L229.8,372.1 L230.6,372.0 L231.4,371.8 L232.2,371.6 L233.0,371.4 L233.7,371.3 L234.5,371.1 L235.3,370.9 L236.1,370.7 L236.9,370.5 L237.6,370.4 L238.4,370.2 L239.2,370.0 L240.0,369.8 L240.8,369.6 L241.5,369.4 L242.3,369.2 L243.1,369.1 L243.9,368.9 L244.6,368.7 L245.4,368.5 L246.2,368.3 L247.0,368.1 L247.7,367.9 L248.5,367.7 L249.3,367.5 L250.1,367.4 L250.9,367.2 L251.6,367.0 L252.4,366.8 L253.2,366.6 L254.0,366.4 L254.7,366.2 L255.5,366.0 L256.3,365.8 L257.1,365.6 L257.8,365.4 L258.6,365.2 L259.4,365.0 L260.2,364.8 L260.9,364.6 L261.7,364.4 L262.5,364.2 L263.3,364.0 L264.0,363.8 L264.8,363.6 L265.6,363.4 L266.4,363.2 L267.1,363.0 L267.9,362.9 L268.7,362.7 L269.5,362.5 L270.2,362.3 L271.0,362.1 L271.8,361.9 L272.6,361.7 L273.3,361.4 L274.1,361.2 L274.9,361.0 L275.7,360.8 L276.4,360.6 L277.2,360.4 L278.0,360.2 L278.8,360.0 L279.5,359.8 L280.3,359.6 L281.1,359.4 L281.8,359.2 L282.6,359.0 L283.4,358.8 L284.2,358.6 L284.9,358.4 L285.7,358.2 L286.5,358.0 L287.3,357.8 L288.0,357.5 L288.8,357.3 L289.6,357.1 L290.4,356.9 L291.1,356.7 L291.9,356.5 L292.7,356.3 L293.4,356.1 L294.2,355.9 L295.0,355.7 L295.8,355.5 L296.5,355.3 L297.3,355.1 L298.1,354.9 L298.9,354.7 L299.6,354.5 L300.4,354.3 L301.2,354.1 L302.0,353.9 L302.8,353.7 L303.5,353.6 L304.3,353.4 L305.1,353.2 L305.9,353.0 L306.6,352.8 L307.4,352.6 L308.2,352.4 L309.0,352.2 L309.7,352.0 L310.5,351.8 L311.3,351.6 L312.1,351.4 L312.8,351.2 L313.6,351.0 L314.4,350.9 L315.2,350.7 L316.0,350.5 L316.7,350.3 L317.5,350.1 L318.3,349.9 L319.1,349.7 L319.8,349.5 L320.6,349.3 L321.4,349.1 L322.2,349.0 L322.9,348.8 L323.7,348.6 L324.5,348.4 L325.3,348.2 L326.1,348.0 L326.8,347.8 L327.6,347.7 L328.4,347.5 L329.2,347.3 L330.0,347.1 L330.7,346.9 L331.5,346.7 L332.3,346.6 L333.1,346.4 L333.8,346.2 L334.6,346.0 L335.4,345.8 L336.2,345.7 L337.0,345.5 L337.7,345.3 L338.5,345.1 L339.3,345.0 L340.1,344.8 L340.9,344.6 L341.6,344.4 L342.4,344.2 L343.2,344.1 L344.0,343.9 L344.8,343.7 L345.5,343.5 L346.3,343.4 L347.1,343.2 L347.9,343.0 L348.7,342.8 L349.4,342.7 L350.2,342.5 L351.0,342.3 L351.8,342.1 L352.6,341.9 L353.3,341.8 L354.1,341.6 L354.9,341.4 L355.7,341.2 L356.5,341.0 L357.2,340.9 L358.0,340.7 L358.8,340.5 L359.6,340.3 L360.4,340.1 L361.1,339.9 L361.9,339.7 L362.7,339.6 L363.5,339.4 L364.2,339.2 L365.0,339.0 L365.8,338.8 L366.6,338.6 L367.4,338.4 L368.1,338.3 L368.9,338.1 L369.7,337.9 L370.5,337.7 L371.3,337.5 L372.0,337.3 L372.8,337.1 L373.6,336.9 L374.4,336.8 L375.1,336.6 L375.9,336.4 L376.7,336.2 L377.5,336.0 L378.2,335.8 L379.0,335.6 L379.8,335.4 L380.6,335.2 L381.4,335.0 L382.1,334.8 L382.9,334.6 L383.7,334.4 L384.5,334.2 L385.2,334.0 L386.0,333.8 L386.8,333.6 L387.6,333.4 L388.3,333.2 L389.1,333.0 L389.9,332.8 L390.6,332.6 L391.4,332.4 L392.2,332.2 L393.0,332.0 L393.7,331.8 L394.5,331.6 L395.3,331.4 L396.1,331.2 L396.8,331.0 L397.6,330.8 L398.4,330.6 L399.1,330.3 L399.9,330.1 L400.7,329.9 L401.5,329.7 L402.2,329.5 L403.0,329.3 L403.8,329.1 L404.5,328.9 L405.3,328.6 L406.1,328.4 L406.9,328.2 L407.6,328.0 L408.4,327.8 L409.2,327.6 L409.9,327.3 L410.7,327.1 L411.5,326.9 L412.3,326.7 L413.0,326.5 L413.8,326.3 L414.6,326.0 L415.3,325.8 L416.1,325.6 L416.9,325.4 L417.6,325.1 L418.4,324.9 L419.2,324.7 L419.9,324.5 L420.7,324.2 L421.5,324.0 L422.2,323.8 L423.0,323.6 L423.8,323.3 L424.5,323.1 L425.3,322.9 L426.1,322.6 L426.8,322.4 L427.6,322.2 L428.4,321.9 L429.1,321.7 L429.9,321.5 L430.7,321.2 L431.4,321.0 L432.2,320.8 L433.0,320.5 L433.7,320.3 L434.5,320.1 L435.2,319.8 L436.0,319.6 L436.8,319.3 L437.5,319.1 L438.3,318.8 L439.1,318.6 L439.8,318.4 L440.6,318.1 L441.3,317.9 L442.1,317.6 L442.9,317.4 L443.6,317.1 L444.4,316.9 L445.1,316.6 L445.9,316.3 L446.6,316.1 L447.4,315.8 L448.2,315.6 L448.9,315.3 L449.7,315.0 L450.4,314.8 L451.2,314.5 L451.9,314.2 L452.7,313.9 L453.4,313.7 L454.2,313.4 L454.9,313.1 L455.7,312.9 L456.4,312.6 L457.2,312.3 L457.9,312.0 L458.7,311.8 L459.5,311.5 L460.2,311.2 L461.0,311.0 L461.7,310.7 L462.5,310.4 L463.2,310.1 L464.0,309.9 L464.7,309.6 L465.5,309.3 L466.2,309.1 L467.0,308.8 L467.7,308.5 L468.5,308.3 L469.3,308.0 L470.0,307.7 L470.8,307.5 L471.5,307.2 L472.3,307.0 L473.0,306.7 L473.8,306.4 L474.5,306.2 L475.3,305.9 L476.1,305.6 L476.8,305.4 L477.6,305.1 L478.3,304.8 L479.1,304.6 L479.8,304.3 L480.6,304.0 L481.3,303.8 L482.1,303.5 L482.8,303.2 L483.6,302.9 L484.3,302.7 L485.1,302.4 L485.8,302.1 L486.6,301.8 L487.3,301.5 L488.1,301.3 L488.8,301.0 L489.6,300.7 L490.3,300.4 L491.0,300.1 L491.8,299.8 L492.5,299.5 L493.3,299.2 L494.0,298.8 L494.7,298.5 L495.5,298.2 L496.2,297.9 L496.9,297.6 L497.7,297.2 L498.4,296.9 L499.1,296.6 L499.8,296.2 L500.6,295.9 L501.3,295.6 L502.0,295.2 L502.8,294.9 L503.5,294.6 L504.2,294.2 L504.9,293.9 L505.7,293.5 L506.4,293.2 L507.1,292.8 L507.8,292.4 L508.5,292.1 L509.2,291.7 L509.9,291.3 L510.6,290.9 L511.3,290.5 L511.9,290.0 L512.5,289.5 L513.2,289.0 L513.8,288.5 L514.4,288.0 L515.0,287.4 L515.6,286.9 L516.1,286.3 L516.7,285.7 L517.3,285.2 L517.8,284.6 L518.4,284.0 L518.9,283.4 L519.4,282.8 L520.0,282.2 L520.5,281.6 L521.0,281.0 L521.5,280.4 L522.0,279.7 L522.5,279.1 L522.9,278.4 L523.4,277.8 L523.8,277.1 L524.3,276.4 L524.7,275.8 L525.1,275.1 L525.5,274.4 L525.9,273.7 L526.3,273.0 L526.7,272.3 L527.0,271.6 L527.4,270.9 L527.8,270.1 L528.1,269.4 L528.5,268.7 L528.8,268.0 L529.2,267.2 L529.5,266.5 L529.8,265.8 L530.2,265.1 L530.5,264.3 L530.8,263.6 L531.1,262.9 L531.4,262.1 L531.7,261.4 L532.0,260.7 L532.3,259.9 L532.6,259.2 L532.9,258.4 L533.2,257.7 L533.5,256.9 L533.8,256.2 L534.1,255.4 L534.3,254.7 L534.6,253.9 L534.9,253.2 L535.1,252.4 L535.4,251.7 L535.7,250.9 L535.9,250.1 L536.2,249.4 L536.4,248.6 L536.7,247.9 L536.9,247.1 L537.2,246.3 L537.4,245.6 L537.6,244.8 L537.9,244.0 L538.1,243.3 L538.3,242.5 L538.5,241.7 L538.7,241.0 L539.0,240.2 L539.2,239.4 L539.4,238.7 L539.6,237.9 L539.8,237.1 L540.0,236.3 L540.2,235.5 L540.3,234.8 L540.5,234.0 L540.7,233.2 L540.9,232.4 L541.1,231.6 L541.2,230.9 L541.4,230.1 L541.6,229.3 L541.7,228.5 L541.9,227.7 L542.0,227.0 L542.2,226.2 L542.3,225.4 L542.5,224.6 L542.6,223.8 L542.7,223.0 L542.9,222.2 L543.0,221.4 L543.1,220.7 L543.3,219.9 L543.4,219.1 L543.5,218.3 L543.7,217.5 L543.8,216.7 L543.9,215.9 L544.1,215.1 L544.2,214.3 L544.3,213.5 L544.5,212.8 L544.6,212.0 L544.7,211.2 L544.8,210.4 L545.0,209.6 L545.1,208.8 L545.3,208.0 L545.4,207.2 L545.5,206.4 L545.7,205.7 L545.8,204.9 L546.0,204.1 L546.1,203.3 L546.2,202.5 L546.4,201.7 L546.6,200.9 L546.7,200.2 L546.9,199.4 L547.0,198.6 L547.2,197.8 L547.3,197.0 L547.5,196.2 L547.7,195.5 L547.8,194.7 L548.0,193.9 L548.2,193.1 L548.3,192.3 L548.5,191.5 L548.7,190.8 L548.8,190.0 L549.0,189.2 L549.2,188.4 L549.4,187.6 L549.5,186.8 L549.7,186.1 L549.9,185.3 L550.0,184.5 L550.2,183.7 L550.4,182.9 L550.5,182.2 L550.7,181.4 L550.9,180.6 L551.0,179.8 L551.2,179.0 L551.4,178.2 L551.5,177.5 L551.7,176.7 L551.8,175.9 L552.0,175.1 L552.2,174.3 L552.3,173.5 L552.5,172.7 L552.6,172.0 L552.7,171.2 L552.9,170.4 L553.0,169.6 L553.2,168.8 L553.3,168.0 L553.5,167.2 L553.6,166.5 L553.8,165.7 L553.9,164.9 L554.1,164.1 L554.2,163.3 L554.4,162.5 L554.5,161.7 L554.6,160.9 L554.8,160.2 L554.9,159.4 L555.0,158.6 L555.2,157.8 L555.3,157.0 L555.4,156.2 L555.6,155.4 L555.7,154.6 L555.8,153.8 L555.9,153.1 L556.1,152.3 L556.2,151.5 L556.3,150.7 L556.4,149.9 L556.5,149.1 L556.6,148.3 L556.7,147.5 L556.8,146.7 L556.9,145.9 L557.0,145.1 L557.1,144.3 L557.2,143.5 L557.3,142.7 L557.4,142.0 L557.5,141.2 L557.6,140.4 L557.7,139.6 L557.8,138.8 L557.9,138.0 L557.9,137.2 L558.0,136.4 L558.1,135.6 L558.2,134.8 L558.3,134.0 L558.4,133.2 L558.5,132.4 L558.6,131.6 L558.7,130.8 L558.8,130.0 L558.9,129.2 L559.1,128.5 L559.2,127.7 L559.3,126.9 L559.4,126.1 L559.5,125.3 L559.6,124.5 L559.7,123.7 L559.8,122.9 L559.9,122.1 L560.0,121.3 L560.1,120.5 L560.2,119.7 L560.3,118.9 L560.4,118.1 L560.5,117.3 L560.7,116.6 L560.8,115.8 L560.9,115.0 L561.0,114.2 L561.1,113.4 L561.2,112.6 L561.3,111.8 L561.5,111.0 L561.6,110.2 L561.7,109.4 L561.8,108.6 L562.0,107.9 L562.1,107.1 L562.2,106.3 L562.3,105.5 L562.5,104.7 L562.6,103.9 L562.7,103.1 L562.9,102.3 L563.0,101.5 L563.2,100.8 L563.3,100.0 L563.4,99.2 L563.6,98.4 L563.7,97.6 L563.9,96.8 L564.0,96.0 L564.1,95.2 L564.3,94.5 L564.4,93.7 L564.6,92.9 L564.7,92.1 L564.8,91.3 L565.0,90.5 L565.1,89.7 L565.2,88.9 L565.4,88.1 L565.5,87.4 L565.6,86.6 L565.8,85.8 L565.9,85.0 L566.0,84.2 L566.2,83.4 L566.3,82.6 L566.4,81.8 L566.6,81.0 L566.7,80.3 L566.9,79.5 L567.0,78.7 L567.1,77.9 L567.3,77.1 L567.4,76.3 L567.6,75.5 L567.7,74.8 L567.9,74.0 L568.0,73.2 L568.2,72.4 L568.4,71.6 L568.5,70.8 L568.7,70.1 L568.9,69.3 L569.1,68.5 L569.3,67.7 L569.5,67.0 L569.7,66.2 L569.9,65.4 L570.1,64.6 L570.2,63.8 L570.4,63.1 L570.6,62.3 L570.8,61.5 L570.9,60.7 L571.1,59.9 L571.3,59.2 L571.6,58.4 L571.8,57.6 L572.1,56.9 L572.5,56.2 L573.1,55.6 L573.8,55.5 L574.4,56.1 L574.8,56.7 L575.1,57.5 L575.4,58.3 L575.6,59.0 L575.9,59.8 L576.1,60.6 L576.3,61.3 L576.5,62.1 L576.7,62.9 L576.9,63.7 L577.1,64.4 L577.3,65.2 L577.5,66.0 L577.7,66.8 L577.9,67.5 L578.1,68.3 L578.3,69.1 L578.5,69.9 L578.6,70.6 L578.8,71.4 L579.0,72.2 L579.1,73.0 L579.3,73.8 L579.4,74.6 L579.6,75.4 L579.7,76.1 L579.8,76.9 L580.0,77.7 L580.1,78.5 L580.2,79.3 L580.4,80.1 L580.5,80.9 L580.6,81.7 L580.7,82.5 L580.9,83.2 L581.0,84.0 L581.1,84.8 L581.2,85.6 L581.3,86.4 L581.4,87.2 L581.6,88.0 L581.7,88.8 L581.8,89.6 L581.9,90.4 L582.0,91.2 L582.2,92.0 L582.3,92.7 L582.4,93.5 L582.5,94.3 L582.7,95.1 L582.8,95.9 L582.9,96.7 L583.0,97.5 L583.1,98.3 L583.3,99.1 L583.4,99.9 L583.5,100.7 L583.6,101.4 L583.7,102.2 L583.8,103.0 L584.0,103.8 L584.1,104.6 L584.2,105.4 L584.3,106.2 L584.4,107.0 L584.5,107.8 L584.7,108.6 L584.8,109.4 L584.9,110.1 L585.0,110.9 L585.1,111.7 L585.3,112.5 L585.4,113.3 L585.5,114.1 L585.6,114.9 L585.8,115.7 L585.9,116.5 L586.0,117.3 L586.1,118.1 L586.3,118.8 L586.4,119.6 L586.5,120.4 L586.6,121.2 L586.7,122.0 L586.9,122.8 L587.0,123.6 L587.1,124.4 L587.2,125.2 L587.4,126.0 L587.5,126.8 L587.6,127.5 L587.7,128.3 L587.8,129.1 L588.0,129.9 L588.1,130.7 L588.2,131.5 L588.3,132.3 L588.4,133.1 L588.5,133.9 L588.7,134.7 L588.8,135.5 L588.9,136.2 L589.0,137.0 L589.1,137.8 L589.2,138.6 L589.3,139.4 L589.4,140.2 L589.5,141.0 L589.6,141.8 L589.7,142.6 L589.9,143.4 L590.0,144.2 L590.1,145.0 L590.2,145.8 L590.3,146.6 L590.4,147.3 L590.5,148.1 L590.6,148.9 L590.7,149.7 L590.8,150.5 L590.9,151.3 L591.0,152.1 L591.1,152.9 L591.2,153.7 L591.3,154.5 L591.4,155.3 L591.5,156.1 L591.6,156.9 L591.7,157.7 L591.8,158.5 L591.9,159.3 L592.1,160.1 L592.2,160.8 L592.3,161.6 L592.5,162.4 L592.6,163.2 L592.8,164.0 L593.0,164.7 L593.2,165.5 L593.4,166.3 L593.6,167.1 L593.8,167.9 L594.0,168.7 L594.3,169.5 L594.5,170.3 L594.8,171.0 L595.0,171.8 L595.3,172.6 L595.6,173.3 L595.9,174.0 L596.2,174.8 L596.5,175.5 L596.9,176.2 L597.2,176.9 L597.5,177.6 L597.9,178.3 L598.3,178.9 L598.7,179.6 L599.2,180.3 L599.7,181.0 L600.2,181.7 L600.7,182.4 L601.3,183.0 L601.8,183.7 L602.4,184.2 L603.0,184.8 L603.6,185.3 L604.2,185.7 L604.8,186.1 L605.4,186.5 L606.1,186.8 L606.8,187.2 L607.5,187.5 L608.3,187.9 L609.1,188.2 L609.8,188.5 L610.6,188.8 L611.4,189.0 L612.3,189.2 L613.1,189.3 L613.9,189.4 L614.7,189.5 L615.4,189.5 L616.2,189.5 L617.0,189.5 L617.8,189.5 L618.6,189.5 L619.4,189.5 L620.2,189.5 L621.0,189.5 L621.8,189.5 L622.6,189.5 L623.4,189.5 L624.2,189.5 L625.0,189.5 L625.8,189.5 L626.6,189.5 L627.4,189.5 L628.2,189.5 L629.0,189.5 L629.8,189.5 L630.6,189.5 L631.4,189.5 L632.2,189.5 L633.0,189.5 L633.8,189.5 L634.6,189.5 L635.4,189.5 L636.2,189.5 L637.0,189.4 L637.8,189.4 L638.6,189.4 L639.4,189.4 L640.2,189.4 L641.0,189.4 L641.8,189.3 L642.6,189.3 L643.4,189.3 L644.2,189.3 L645.0,189.2 L645.8,189.2 L646.6,189.2 L647.4,189.2 L648.2,189.1 L649.0,189.1 L649.8,189.1 L650.6,189.0 L651.4,189.0 L652.2,189.0 L653.0,189.0 L653.8,188.9 L654.6,188.9 L655.4,188.9 L656.2,188.8 L657.0,188.8 L657.8,188.7 L658.6,188.7 L659.4,188.7 L660.2,188.6 L661.0,188.6 L661.8,188.6 L662.6,188.5 L663.4,188.5 L664.2,188.5 L665.0,188.4 L665.8,188.4 L666.6,188.3 L667.4,188.3 L668.2,188.3 L669.0,188.2 L669.8,188.2 L670.6,188.2 L671.4,188.1 L672.2,188.1 L673.0,188.1 L673.8,188.0 L674.6,188.0 L675.4,187.9 L676.2,187.9 L677.0,187.9 L677.8,187.8 L678.6,187.8 L679.4,187.8 L680.2,187.8 L681.0,187.7 L681.8,187.7 L682.6,187.7 L683.4,187.6 L684.2,187.6 L685.0,187.6 L685.8,187.6 L686.6,187.5 L687.4,187.5 L688.2,187.5 L689.0,187.5 L689.8,187.5 L690.6,187.4 L691.4,187.4 L692.2,187.4 L693.0,187.4 L693.8,187.3 L694.6,187.3 L695.4,187.3 L696.2,187.3 L697.0,187.3 L697.8,187.2 L698.6,187.2 L699.4,187.2 L700.2,187.2 L701.0,187.2 L701.8,187.1 L702.6,187.1 L703.4,187.1 L704.2,187.1 L705.0,187.1 L705.8,187.1 L706.6,187.0 L707.4,187.0 L708.2,187.0 L709.0,187.0 L709.8,187.0 L710.6,186.9 L711.4,186.9 L712.2,186.9 L713.0,186.9 L713.8,186.9 L714.6,186.9 L715.4,186.8 L716.2,186.8 L717.0,186.8 L717.8,186.8 L718.6,186.8 L719.4,186.8 L720.2,186.7 L721.0,186.7 L721.8,186.7 L722.6,186.7 L723.4,186.7 L724.2,186.7 L725.0,186.6 L725.8,186.6 L726.6,186.6 L727.4,186.6 L728.2,186.6 L729.0,186.6 L729.8,186.6 L730.6,186.5 L731.4,186.5 L732.2,186.5 L733.0,186.5" stroke="#ff2a12" stroke-width="2.4"/>
<path d="M73.0,406.6 L73.8,406.6 L74.6,406.6 L75.4,406.6 L76.2,406.6 L77.0,406.5 L77.8,406.5 L78.6,406.5 L79.4,406.4 L80.2,406.4 L81.0,406.4 L81.8,406.3 L82.6,406.3 L83.4,406.3 L84.2,406.2 L85.0,406.2 L85.8,406.1 L86.6,406.1 L87.4,406.0 L88.2,406.0 L89.0,406.0 L89.8,405.9 L90.6,405.9 L91.4,405.8 L92.2,405.8 L93.0,405.7 L93.8,405.7 L94.6,405.6 L95.4,405.5 L96.2,405.5 L97.0,405.4 L97.8,405.3 L98.6,405.3 L99.3,405.2 L100.1,405.1 L100.9,405.1 L101.7,405.0 L102.5,404.9 L103.3,404.8 L104.1,404.7 L104.9,404.7 L105.7,404.6 L106.5,404.5 L107.3,404.4 L108.1,404.3 L108.9,404.2 L109.7,404.1 L110.5,404.0 L111.3,403.8 L112.1,403.7 L112.8,403.6 L113.6,403.5 L114.4,403.4 L115.2,403.2 L116.0,403.1 L116.8,403.0 L117.6,402.8 L118.4,402.7 L119.2,402.5 L119.9,402.4 L120.7,402.3 L121.5,402.1 L122.3,402.0 L123.1,401.8 L123.9,401.7 L124.7,401.5 L125.5,401.4 L126.2,401.2 L127.0,401.0 L127.8,400.8 L128.6,400.6 L129.3,400.4 L130.1,400.1 L130.9,399.8 L131.5,399.5 L132.1,398.9 L132.6,398.3 L133.1,397.6 L133.6,397.0 L134.3,396.7 L135.0,396.4 L135.8,396.2 L136.6,395.9 L137.3,395.7 L138.1,395.4 L138.9,395.2 L139.6,395.0 L140.4,394.7 L141.2,394.5 L141.9,394.3 L142.7,394.1 L143.5,393.8 L144.2,393.6 L145.0,393.4 L145.8,393.2 L146.5,393.0 L147.3,392.7 L148.1,392.5 L148.8,392.3 L149.6,392.1 L150.4,391.9 L151.1,391.7 L151.9,391.5 L152.7,391.2 L153.5,391.0 L154.2,390.8 L155.0,390.6 L155.8,390.4 L156.6,390.2 L157.3,390.0 L158.1,389.8 L158.9,389.6 L159.6,389.4 L160.4,389.2 L161.2,389.0 L162.0,388.8 L162.8,388.6 L163.5,388.4 L164.3,388.2 L165.1,388.0 L165.9,387.9 L166.6,387.7 L167.4,387.5 L168.2,387.3 L169.0,387.1 L169.7,386.9 L170.5,386.7 L171.3,386.5 L172.1,386.3 L172.9,386.1 L173.6,385.9 L174.4,385.8 L175.2,385.6 L176.0,385.4 L176.7,385.2 L177.5,385.0 L178.3,384.8 L179.1,384.6 L179.9,384.5 L180.6,384.3 L181.4,384.1 L182.2,383.9 L183.0,383.7 L183.8,383.5 L184.5,383.3 L185.3,383.1 L186.1,383.0 L186.9,382.8 L187.6,382.6 L188.4,382.4 L189.2,382.2 L190.0,382.0 L190.8,381.8 L191.5,381.6 L192.3,381.4 L193.1,381.3 L193.9,381.1 L194.6,380.9 L195.4,380.7 L196.2,380.5 L197.0,380.3 L197.7,380.1 L198.5,380.0 L199.3,379.8 L200.1,379.6 L200.9,379.4 L201.6,379.2 L202.4,379.0 L203.2,378.9 L204.0,378.7 L204.8,378.5 L205.5,378.3 L206.3,378.1 L207.1,378.0 L207.9,377.8 L208.7,377.6 L209.4,377.4 L210.2,377.2 L211.0,377.1 L211.8,376.9 L212.5,376.7 L213.3,376.5 L214.1,376.4 L214.9,376.2 L215.7,376.0 L216.4,375.8 L217.2,375.7 L218.0,375.5 L218.8,375.3 L219.6,375.1 L220.3,375.0 L221.1,374.8 L221.9,374.6 L222.7,374.4 L223.5,374.2 L224.2,374.1 L225.0,373.9 L225.8,373.7 L226.6,373.5 L227.4,373.4 L228.1,373.2 L228.9,373.0 L229.7,372.8 L230.5,372.6 L231.3,372.5 L232.0,372.3 L232.8,372.1 L233.6,371.9 L234.4,371.7 L235.2,371.6 L235.9,371.4 L236.7,371.2 L237.5,371.0 L238.3,370.8 L239.0,370.6 L239.8,370.4 L240.6,370.3 L241.4,370.1 L242.2,369.9 L242.9,369.7 L243.7,369.5 L244.5,369.3 L245.3,369.1 L246.0,368.9 L246.8,368.7 L247.6,368.6 L248.4,368.4 L249.1,368.2 L249.9,368.0 L250.7,367.8 L251.5,367.6 L252.3,367.4 L253.0,367.2 L253.8,367.0 L254.6,366.8 L255.4,366.6 L256.1,366.5 L256.9,366.3 L257.7,366.1 L258.5,365.9 L259.2,365.7 L260.0,365.5 L260.8,365.3 L261.6,365.1 L262.3,364.9 L263.1,364.7 L263.9,364.5 L264.7,364.3 L265.4,364.1 L266.2,363.9 L267.0,363.7 L267.8,363.5 L268.5,363.3 L269.3,363.1 L270.1,362.9 L270.9,362.7 L271.6,362.5 L272.4,362.3 L273.2,362.1 L273.9,361.9 L274.7,361.6 L275.5,361.4 L276.3,361.2 L277.0,361.0 L277.8,360.8 L278.6,360.6 L279.3,360.4 L280.1,360.2 L280.9,359.9 L281.6,359.7 L282.4,359.5 L283.2,359.3 L284.0,359.1 L284.7,358.9 L285.5,358.6 L286.3,358.4 L287.0,358.2 L287.8,358.0 L288.6,357.8 L289.3,357.6 L290.1,357.4 L290.9,357.1 L291.7,356.9 L292.4,356.7 L293.2,356.5 L294.0,356.3 L294.8,356.1 L295.5,355.9 L296.3,355.7 L297.1,355.5 L297.8,355.3 L298.6,355.1 L299.4,354.9 L300.2,354.7 L300.9,354.5 L301.7,354.3 L302.5,354.1 L303.3,353.9 L304.0,353.7 L304.8,353.5 L305.6,353.3 L306.4,353.1 L307.1,352.9 L307.9,352.7 L308.7,352.5 L309.5,352.3 L310.2,352.2 L311.0,352.0 L311.8,351.8 L312.6,351.6 L313.4,351.4 L314.1,351.2 L314.9,351.0 L315.7,350.8 L316.5,350.6 L317.2,350.4 L318.0,350.3 L318.8,350.1 L319.6,349.9 L320.3,349.7 L321.1,349.5 L321.9,349.3 L322.7,349.1 L323.5,349.0 L324.2,348.8 L325.0,348.6 L325.8,348.4 L326.6,348.2 L327.3,348.0 L328.1,347.8 L328.9,347.7 L329.7,347.5 L330.5,347.3 L331.2,347.1 L332.0,346.9 L332.8,346.7 L333.6,346.6 L334.4,346.4 L335.1,346.2 L335.9,346.0 L336.7,345.9 L337.5,345.7 L338.3,345.5 L339.0,345.3 L339.8,345.1 L340.6,345.0 L341.4,344.8 L342.1,344.6 L342.9,344.4 L343.7,344.3 L344.5,344.1 L345.3,343.9 L346.0,343.7 L346.8,343.5 L347.6,343.4 L348.4,343.2 L349.2,343.0 L349.9,342.8 L350.7,342.7 L351.5,342.5 L352.3,342.3 L353.1,342.1 L353.8,341.9 L354.6,341.8 L355.4,341.6 L356.2,341.4 L357.0,341.2 L357.7,341.0 L358.5,340.9 L359.3,340.7 L360.1,340.5 L360.8,340.3 L361.6,340.1 L362.4,339.9 L363.2,339.7 L364.0,339.6 L364.7,339.4 L365.5,339.2 L366.3,339.0 L367.1,338.8 L367.9,338.6 L368.6,338.4 L369.4,338.3 L370.2,338.1 L371.0,337.9 L371.7,337.7 L372.5,337.5 L373.3,337.3 L374.1,337.1 L374.8,336.9 L375.6,336.8 L376.4,336.6 L377.2,336.4 L378.0,336.2 L378.7,336.0 L379.5,335.8 L380.3,335.6 L381.1,335.4 L381.8,335.2 L382.6,335.0 L383.4,334.8 L384.2,334.6 L384.9,334.4 L385.7,334.2 L386.5,334.0 L387.3,333.8 L388.0,333.6 L388.8,333.4 L389.6,333.2 L390.3,333.0 L391.1,332.8 L391.9,332.6 L392.7,332.4 L393.4,332.2 L394.2,332.0 L395.0,331.8 L395.7,331.5 L396.5,331.3 L397.3,331.1 L398.1,330.9 L398.8,330.7 L399.6,330.5 L400.4,330.3 L401.1,330.1 L401.9,329.8 L402.7,329.6 L403.4,329.4 L404.2,329.2 L405.0,329.0 L405.8,328.7 L406.5,328.5 L407.3,328.3 L408.1,328.1 L408.8,327.9 L409.6,327.6 L410.4,327.4 L411.1,327.2 L411.9,327.0 L412.7,326.7 L413.4,326.5 L414.2,326.3 L415.0,326.1 L415.7,325.8 L416.5,325.6 L417.3,325.4 L418.0,325.2 L418.8,324.9 L419.6,324.7 L420.3,324.5 L421.1,324.2 L421.9,324.0 L422.6,323.8 L423.4,323.5 L424.2,323.3 L424.9,323.1 L425.7,322.8 L426.5,322.6 L427.2,322.4 L428.0,322.1 L428.8,321.9 L429.5,321.6 L430.3,321.4 L431.0,321.2 L431.8,320.9 L432.6,320.7 L433.3,320.4 L434.1,320.2 L434.9,320.0 L435.6,319.7 L436.4,319.5 L437.1,319.2 L437.9,319.0 L438.7,318.7 L439.4,318.5 L440.2,318.2 L440.9,318.0 L441.7,317.7 L442.5,317.5 L443.2,317.2 L444.0,317.0 L444.7,316.7 L445.5,316.5 L446.2,316.2 L447.0,315.9 L447.7,315.7 L448.5,315.4 L449.3,315.2 L450.0,314.9 L450.8,314.6 L451.5,314.3 L452.3,314.1 L453.0,313.8 L453.8,313.5 L454.5,313.3 L455.3,313.0 L456.0,312.7 L456.8,312.5 L457.5,312.2 L458.3,311.9 L459.0,311.6 L459.8,311.4 L460.5,311.1 L461.3,310.8 L462.1,310.6 L462.8,310.3 L463.6,310.0 L464.3,309.7 L465.1,309.5 L465.8,309.2 L466.6,308.9 L467.3,308.7 L468.1,308.4 L468.8,308.1 L469.6,307.9 L470.3,307.6 L471.1,307.4 L471.9,307.1 L472.6,306.8 L473.4,306.6 L474.1,306.3 L474.9,306.0 L475.6,305.8 L476.4,305.5 L477.1,305.3 L477.9,305.0 L478.7,304.7 L479.4,304.5 L480.2,304.2 L480.9,303.9 L481.7,303.6 L482.4,303.4 L483.2,303.1 L483.9,302.8 L484.7,302.5 L485.4,302.3 L486.2,302.0 L486.9,301.7 L487.7,301.4 L488.4,301.1 L489.2,300.8 L489.9,300.5 L490.6,300.2 L491.4,299.9 L492.1,299.6 L492.8,299.3 L493.6,299.0 L494.3,298.7 L495.1,298.4 L495.8,298.1 L496.5,297.7 L497.2,297.4 L498.0,297.1 L498.7,296.8 L499.4,296.4 L500.2,296.1 L500.9,295.8 L501.6,295.4 L502.3,295.1 L503.1,294.7 L503.8,294.4 L504.5,294.0 L505.2,293.7 L505.9,293.3 L506.7,293.0 L507.4,292.7 L508.1,292.3 L508.9,292.0 L509.6,291.7 L510.4,291.5 L511.1,291.2 L511.9,290.9 L512.6,290.6 L513.3,290.2 L514.0,289.9 L514.7,289.5 L515.4,289.1 L516.1,288.7 L516.8,288.3 L517.5,287.9 L518.1,287.5 L518.8,287.0 L519.5,286.6 L520.1,286.1 L520.8,285.7 L521.4,285.2 L522.1,284.7 L522.8,284.3 L523.4,283.8 L524.1,283.4 L524.7,282.9 L525.4,282.5 L526.1,282.0 L526.7,281.6 L527.4,281.2 L528.1,280.7 L528.8,280.3 L529.5,279.9 L530.2,279.5 L530.8,279.1 L531.5,278.6 L532.2,278.2 L532.9,277.8 L533.6,277.4 L534.3,276.9 L534.9,276.5 L535.6,276.1 L536.3,275.6 L536.9,275.2 L537.6,274.7 L538.2,274.3 L538.8,273.8 L539.5,273.3 L540.1,272.8 L540.7,272.3 L541.3,271.8 L542.0,271.3 L542.6,270.8 L543.2,270.3 L543.8,269.7 L544.4,269.2 L545.0,268.7 L545.6,268.1 L546.2,267.6 L546.8,267.1 L547.4,266.5 L548.0,265.9 L548.5,265.4 L549.1,264.8 L549.6,264.3 L550.2,263.7 L550.7,263.1 L551.3,262.5 L551.8,261.9 L552.4,261.3 L552.9,260.7 L553.4,260.1 L554.0,259.5 L554.5,258.9 L555.0,258.3 L555.5,257.7 L556.0,257.0 L556.4,256.4 L556.9,255.7 L557.4,255.1 L557.8,254.4 L558.2,253.8 L558.7,253.1 L559.1,252.4 L559.5,251.7 L559.9,251.0 L560.3,250.3 L560.7,249.6 L561.1,248.9 L561.5,248.2 L561.8,247.5 L562.2,246.8 L562.6,246.1 L562.9,245.4 L563.3,244.7 L563.6,243.9 L564.0,243.2 L564.3,242.5 L564.6,241.8 L565.0,241.0 L565.3,240.3 L565.6,239.6 L565.9,238.8 L566.2,238.1 L566.5,237.3 L566.8,236.6 L567.1,235.9 L567.4,235.1 L567.7,234.4 L568.0,233.6 L568.3,232.9 L568.6,232.1 L568.9,231.4 L569.1,230.6 L569.4,229.9 L569.7,229.1 L569.9,228.4 L570.2,227.6 L570.5,226.9 L570.8,226.1 L571.0,225.4 L571.3,224.6 L571.6,223.9 L571.9,223.1 L572.2,222.4 L572.4,221.6 L572.7,220.9 L573.0,220.1 L573.3,219.4 L573.6,218.6 L573.9,217.9 L574.1,217.1 L574.4,216.4 L574.7,215.6 L575.0,214.8 L575.2,214.1 L575.5,213.3 L575.8,212.6 L576.1,211.8 L576.4,211.1 L576.7,210.3 L577.0,209.6 L577.3,208.8 L577.6,208.1 L577.9,207.4 L578.2,206.6 L578.5,205.9 L578.9,205.2 L579.2,204.5 L579.6,203.8 L579.9,203.1 L580.3,202.4 L580.7,201.7 L581.1,200.9 L581.5,200.2 L581.9,199.4 L582.3,198.7 L582.8,198.0 L583.2,197.2 L583.7,196.5 L584.2,195.8 L584.7,195.2 L585.2,194.6 L585.7,194.0 L586.2,193.5 L586.8,193.0 L587.3,192.6 L587.9,192.2 L588.6,191.9 L589.3,191.6 L590.0,191.3 L590.7,191.0 L591.5,190.7 L592.3,190.4 L593.1,190.2 L593.9,189.9 L594.7,189.7 L595.6,189.6 L596.4,189.4 L597.2,189.3 L597.9,189.2 L598.7,189.1 L599.5,189.0 L600.3,188.9 L601.1,188.9 L601.9,188.8 L602.7,188.7 L603.5,188.6 L604.3,188.6 L605.1,188.5 L605.9,188.5 L606.7,188.4 L607.5,188.4 L608.3,188.3 L609.1,188.3 L609.9,188.2 L610.7,188.2 L611.5,188.2 L612.3,188.1 L613.1,188.1 L613.9,188.0 L614.7,188.0 L615.5,188.0 L616.3,187.9 L617.1,187.9 L617.9,187.9 L618.7,187.9 L619.5,187.8 L620.3,187.8 L621.1,187.8 L621.9,187.7 L622.7,187.7 L623.5,187.7 L624.3,187.7 L625.1,187.6 L625.9,187.6 L626.7,187.6 L627.5,187.6 L628.3,187.5 L629.1,187.5 L629.9,187.5 L630.7,187.5 L631.5,187.5 L632.3,187.4 L633.1,187.4 L633.9,187.4 L634.7,187.4 L635.5,187.3 L636.3,187.3 L637.1,187.3 L637.9,187.3 L638.7,187.3 L639.5,187.3 L640.3,187.2 L641.1,187.2 L641.9,187.2 L642.7,187.2 L643.5,187.2 L644.3,187.1 L645.1,187.1 L645.9,187.1 L646.7,187.1 L647.5,187.1 L648.3,187.1 L649.1,187.0 L649.9,187.0 L650.7,187.0 L651.5,187.0 L652.3,187.0 L653.1,187.0 L653.9,187.0 L654.7,186.9 L655.5,186.9 L656.3,186.9 L657.1,186.9 L657.9,186.9 L658.7,186.9 L659.5,186.8 L660.3,186.8 L661.1,186.8 L661.9,186.8 L662.7,186.8 L663.5,186.8 L664.3,186.8 L665.1,186.7 L665.9,186.7 L666.7,186.7 L667.5,186.7 L668.3,186.7 L669.1,186.7 L669.9,186.7 L670.7,186.6 L671.5,186.6 L672.3,186.6 L673.0,186.6 L673.8,186.6 L674.6,186.6 L675.4,186.5 L676.2,186.5 L677.0,186.5 L677.8,186.5 L678.6,186.5 L679.4,186.5 L680.2,186.4 L681.0,186.4 L681.8,186.4 L682.6,186.4 L683.4,186.4 L684.2,186.3 L685.0,186.3 L685.8,186.3 L686.6,186.3 L687.4,186.3 L688.2,186.2 L689.0,186.2 L689.8,186.2 L690.6,186.2 L691.4,186.2 L692.2,186.1 L693.0,186.1 L693.8,186.1 L694.6,186.1 L695.4,186.1 L696.2,186.0 L697.0,186.0 L697.8,186.0 L698.6,186.0 L699.4,185.9 L700.2,185.9 L701.0,185.9 L701.8,185.9 L702.6,185.9 L703.4,185.8 L704.2,185.8 L705.0,185.8 L705.8,185.8 L706.6,185.8 L707.4,185.7 L708.2,185.7 L709.0,185.7 L709.8,185.7 L710.6,185.6 L711.4,185.6 L712.2,185.6 L713.0,185.6 L713.8,185.6 L714.6,185.5 L715.4,185.5 L716.2,185.5 L717.0,185.5 L717.8,185.4 L718.6,185.4 L719.4,185.4 L720.2,185.4 L721.0,185.3 L721.8,185.3 L722.6,185.3 L723.4,185.3 L724.2,185.3 L725.0,185.2 L725.8,185.2 L726.6,185.2 L727.4,185.2 L728.2,185.1 L729.0,185.1 L729.8,185.1 L730.6,185.1 L731.4,185.0 L732.2,185.0 L733.0,185.0" stroke="#b1773c" stroke-width="2.5" stroke-dasharray="7.8 3.3"/>
</g>
<g stroke="#000" fill="none" stroke-linecap="butt" stroke-linejoin="miter">
<path d="M325.7,306.6 V335" stroke-width="1.8"/><path d="M320.9,326.6 L325.7,335.8 L330.5,326.6" stroke-width="2.1"/>
<path d="M511.1,349.7 V296" stroke-width="1.8"/><path d="M506.4,304.6 L511.1,295.2 L515.8,304.6" stroke-width="2.1"/>
</g>
<rect x="145.3" y="89" width="101.2" height="105.5" fill="#fff" stroke="#000" stroke-width="1.6"/>
<path d="M152.6,111 H195.7" stroke="#ff2a12" stroke-width="2.3"/>
<path d="M152.6,143.3 H195.7" stroke="#b1773c" stroke-width="2.2" stroke-dasharray="8.1 3.1"/>
<path d="M152.6,174.6 H195.7" stroke="#b1773c" stroke-width="2.2" stroke-dasharray="16.8 3.3 5.1 3.1"/>
<g font-family="Liberation Serif, serif" font-weight="bold" fill="#000" stroke="#000" stroke-width="0.3" stroke-linejoin="round">
<text x="63.6" y="20.3" font-size="28" text-anchor="end" >28</text>
<text x="63.6" y="119.3" font-size="28" text-anchor="end" >21</text>
<text x="63.6" y="218.3" font-size="28" text-anchor="end" >14</text>
<text x="63.6" y="317.3" font-size="28" text-anchor="end" >7</text>
<text x="63.6" y="416.3" font-size="28" text-anchor="end" >0</text>
<text x="745.6" y="20.3" font-size="28" text-anchor="start" >130</text>
<text x="745.6" y="119.3" font-size="28" text-anchor="start" >110</text>
<text x="745.6" y="218.3" font-size="28" text-anchor="start" >90</text>
<text x="745.6" y="317.3" font-size="28" text-anchor="start" >70</text>
<text x="745.6" y="416.3" font-size="28" text-anchor="start" >50</text>
<text x="73" y="444.2" font-size="28" text-anchor="middle" >-96</text>
<text x="193" y="444.2" font-size="28" text-anchor="middle" >-94</text>
<text x="313" y="444.2" font-size="28" text-anchor="middle" >-92</text>
<text x="433" y="444.2" font-size="28" text-anchor="middle" >-90</text>
<text x="553" y="444.2" font-size="28" text-anchor="middle" >-88</text>
<text x="673" y="444.2" font-size="28" text-anchor="middle" >-86</text>
<text x="401.6" y="475.2" font-size="27.7" text-anchor="middle" >position <tspan font-style="italic">x</tspan> (nm)</text>
<text x="0" y="0" font-size="28" text-anchor="middle" transform="translate(22.6,208.5) rotate(-90)">atom density <tspan font-style="italic">n</tspan> (nm<tspan font-size="19.5" dy="-7.6">-3</tspan><tspan dy="7.6">)</tspan></text>
<text x="0" y="0" font-size="28" text-anchor="middle" transform="translate(820.6,213) rotate(-90)">temperatures <tspan font-style="italic">T</tspan><tspan font-style="italic" font-size="21" dy="4.7" dx="0">x</tspan><tspan dy="-4.7" font-size="1">&#8203;</tspan> and <tspan font-style="italic">T</tspan><tspan font-style="italic" font-size="21" dy="4.7" dx="0">y</tspan><tspan dy="-4.7" font-size="1">&#8203;</tspan> (K)</text>
<g font-style="italic">
<text x="362.6" y="38.4" font-size="26" text-anchor="start" >n</text>
<text x="562.2" y="41.8" font-size="28" text-anchor="start" >T<tspan font-size="23" dy="6" dx="-1.6">x</tspan><tspan dy="-6" font-size="1">&#8203;</tspan></text>
<text x="90.2" y="265.9" font-size="29" text-anchor="start" >T<tspan font-size="19.4" dy="6" dx="-2.4">L</tspan><tspan dy="-6" font-size="1">&#8203;</tspan></text>
<text x="212.6" y="117" font-size="23" text-anchor="start" >T<tspan font-size="19.5" dy="5.2" dx="0">x</tspan><tspan dy="-5.2" font-size="1">&#8203;</tspan></text>
<text x="212.6" y="150.2" font-size="23" text-anchor="start" >T<tspan font-size="19.5" dy="5.2" dx="0">y</tspan><tspan dy="-5.2" font-size="1">&#8203;</tspan></text>
<text x="212.3" y="182" font-size="21" text-anchor="start" >n</text>
</g>
<text x="267.8" y="299.6" font-size="23.6" text-anchor="start" ><tspan font-style="italic">T<tspan font-size="19" dy="5" dx="0">s</tspan><tspan dy="-5" font-size="1">&#8203;</tspan></tspan> = 63 K</text>
<text x="425.5" y="370" font-size="23.6" text-anchor="start" ><tspan font-style="italic">T<tspan font-size="19" dy="5" dx="0">s</tspan><tspan dy="-5" font-size="1">&#8203;</tspan></tspan> = 73.5 K</text>
</g>
</svg>
</div></body></html>
